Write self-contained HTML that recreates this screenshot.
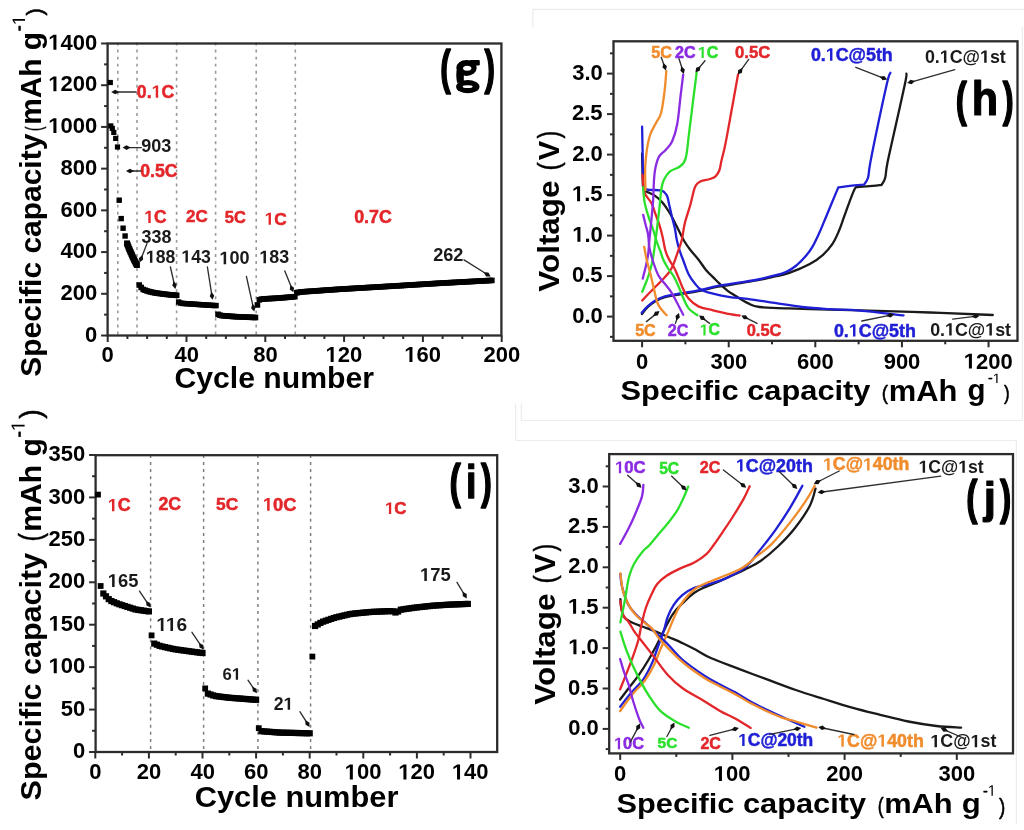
<!DOCTYPE html><html><head><meta charset="utf-8"><style>html,body{margin:0;padding:0;background:#fff;overflow:hidden}svg{display:block;filter:blur(0.5px)}text{font-family:"Liberation Sans",sans-serif}</style></head><body>
<svg width="1024" height="830" viewBox="0 0 1024 830">
<rect width="1024" height="830" fill="#fff"/>
<line x1="532.8" y1="9.3" x2="1024" y2="9.3" stroke="#ececec" stroke-width="1.2" />
<line x1="532.8" y1="9.8" x2="532.8" y2="27.8" stroke="#ececec" stroke-width="1.2" />
<line x1="1022.4" y1="27" x2="1022.4" y2="420.4" stroke="#ececec" stroke-width="1.2" />
<line x1="515.6" y1="403.4" x2="515.6" y2="440.5" stroke="#ececec" stroke-width="1.2" />
<line x1="521.3" y1="403.4" x2="521.3" y2="420.5" stroke="#ececec" stroke-width="1.2" />
<line x1="521.3" y1="420.5" x2="1022.4" y2="420.5" stroke="#ececec" stroke-width="1.2" />
<line x1="515.6" y1="440.5" x2="1016.4" y2="440.5" stroke="#ececec" stroke-width="1.2" />
<line x1="1016.4" y1="440.5" x2="1016.4" y2="824" stroke="#ececec" stroke-width="1.2" />
<line x1="117.8" y1="42.55" x2="117.8" y2="334.5" stroke="#9a9a9a" stroke-width="1.6" stroke-dasharray="2.9 4.15"/>
<line x1="137" y1="42.55" x2="137" y2="334.5" stroke="#9a9a9a" stroke-width="1.6" stroke-dasharray="2.9 4.15"/>
<line x1="176.6" y1="42.55" x2="176.6" y2="334.5" stroke="#9a9a9a" stroke-width="1.6" stroke-dasharray="2.9 4.15"/>
<line x1="215.6" y1="42.55" x2="215.6" y2="334.5" stroke="#9a9a9a" stroke-width="1.6" stroke-dasharray="2.9 4.15"/>
<line x1="256.2" y1="42.55" x2="256.2" y2="334.5" stroke="#9a9a9a" stroke-width="1.6" stroke-dasharray="2.9 4.15"/>
<line x1="295.3" y1="42.55" x2="295.3" y2="334.5" stroke="#9a9a9a" stroke-width="1.6" stroke-dasharray="2.9 4.15"/>
<rect x="107.6" y="43.5" width="393.8" height="292" fill="none" stroke="#2c2c2c" stroke-width="2.3"/>
<line x1="101.1" y1="335.5" x2="107.6" y2="335.5" stroke="#2c2c2c" stroke-width="2" />
<line x1="101.1" y1="293.79" x2="107.6" y2="293.79" stroke="#2c2c2c" stroke-width="2" />
<line x1="101.1" y1="252.07" x2="107.6" y2="252.07" stroke="#2c2c2c" stroke-width="2" />
<line x1="101.1" y1="210.36" x2="107.6" y2="210.36" stroke="#2c2c2c" stroke-width="2" />
<line x1="101.1" y1="168.64" x2="107.6" y2="168.64" stroke="#2c2c2c" stroke-width="2" />
<line x1="101.1" y1="126.93" x2="107.6" y2="126.93" stroke="#2c2c2c" stroke-width="2" />
<line x1="101.1" y1="85.22" x2="107.6" y2="85.22" stroke="#2c2c2c" stroke-width="2" />
<line x1="101.1" y1="43.5" x2="107.6" y2="43.5" stroke="#2c2c2c" stroke-width="2" />
<line x1="104.1" y1="314.64" x2="107.6" y2="314.64" stroke="#2c2c2c" stroke-width="2" />
<line x1="104.1" y1="272.93" x2="107.6" y2="272.93" stroke="#2c2c2c" stroke-width="2" />
<line x1="104.1" y1="231.22" x2="107.6" y2="231.22" stroke="#2c2c2c" stroke-width="2" />
<line x1="104.1" y1="189.5" x2="107.6" y2="189.5" stroke="#2c2c2c" stroke-width="2" />
<line x1="104.1" y1="147.79" x2="107.6" y2="147.79" stroke="#2c2c2c" stroke-width="2" />
<line x1="104.1" y1="106.07" x2="107.6" y2="106.07" stroke="#2c2c2c" stroke-width="2" />
<line x1="104.1" y1="64.36" x2="107.6" y2="64.36" stroke="#2c2c2c" stroke-width="2" />
<line x1="107.7" y1="335.5" x2="107.7" y2="342" stroke="#2c2c2c" stroke-width="2" />
<line x1="186.5" y1="335.5" x2="186.5" y2="342" stroke="#2c2c2c" stroke-width="2" />
<line x1="265.3" y1="335.5" x2="265.3" y2="342" stroke="#2c2c2c" stroke-width="2" />
<line x1="344.1" y1="335.5" x2="344.1" y2="342" stroke="#2c2c2c" stroke-width="2" />
<line x1="422.9" y1="335.5" x2="422.9" y2="342" stroke="#2c2c2c" stroke-width="2" />
<line x1="501.7" y1="335.5" x2="501.7" y2="342" stroke="#2c2c2c" stroke-width="2" />
<line x1="127.4" y1="335.5" x2="127.4" y2="339" stroke="#2c2c2c" stroke-width="2" />
<line x1="147.1" y1="335.5" x2="147.1" y2="339" stroke="#2c2c2c" stroke-width="2" />
<line x1="166.8" y1="335.5" x2="166.8" y2="339" stroke="#2c2c2c" stroke-width="2" />
<line x1="206.2" y1="335.5" x2="206.2" y2="339" stroke="#2c2c2c" stroke-width="2" />
<line x1="225.9" y1="335.5" x2="225.9" y2="339" stroke="#2c2c2c" stroke-width="2" />
<line x1="245.6" y1="335.5" x2="245.6" y2="339" stroke="#2c2c2c" stroke-width="2" />
<line x1="285" y1="335.5" x2="285" y2="339" stroke="#2c2c2c" stroke-width="2" />
<line x1="304.7" y1="335.5" x2="304.7" y2="339" stroke="#2c2c2c" stroke-width="2" />
<line x1="324.4" y1="335.5" x2="324.4" y2="339" stroke="#2c2c2c" stroke-width="2" />
<line x1="363.8" y1="335.5" x2="363.8" y2="339" stroke="#2c2c2c" stroke-width="2" />
<line x1="383.5" y1="335.5" x2="383.5" y2="339" stroke="#2c2c2c" stroke-width="2" />
<line x1="403.2" y1="335.5" x2="403.2" y2="339" stroke="#2c2c2c" stroke-width="2" />
<line x1="442.6" y1="335.5" x2="442.6" y2="339" stroke="#2c2c2c" stroke-width="2" />
<line x1="462.3" y1="335.5" x2="462.3" y2="339" stroke="#2c2c2c" stroke-width="2" />
<line x1="482" y1="335.5" x2="482" y2="339" stroke="#2c2c2c" stroke-width="2" />
<text transform="translate(85.05 341.65) scale(1.0200 1)" font-size="21.6" font-weight="bold" fill="#000">0</text>
<text transform="translate(60.6 299.94) scale(1.0200 1)" font-size="21.6" font-weight="bold" fill="#000">200</text>
<text transform="translate(60.6 258.22) scale(1.0200 1)" font-size="21.6" font-weight="bold" fill="#000">400</text>
<text transform="translate(60.6 216.51) scale(1.0200 1)" font-size="21.6" font-weight="bold" fill="#000">600</text>
<text transform="translate(60.6 174.8) scale(1.0200 1)" font-size="21.6" font-weight="bold" fill="#000">800</text>
<g transform="translate(48.26 133.08) scale(1.0200 1)" fill="#000"><path transform="translate(0 0) scale(0.01055 -0.01055)" d="M478,0 L478,1170 L140,959 L140,1180 L493,1409 L759,1409 L759,0 Z"/><text x="12.01" y="0" font-size="21.6" font-weight="bold">000</text></g>
<g transform="translate(48.26 91.37) scale(1.0200 1)" fill="#000"><path transform="translate(0 0) scale(0.01055 -0.01055)" d="M478,0 L478,1170 L140,959 L140,1180 L493,1409 L759,1409 L759,0 Z"/><text x="12.01" y="0" font-size="21.6" font-weight="bold">200</text></g>
<g transform="translate(48.26 49.65) scale(1.0200 1)" fill="#000"><path transform="translate(0 0) scale(0.01055 -0.01055)" d="M478,0 L478,1170 L140,959 L140,1180 L493,1409 L759,1409 L759,0 Z"/><text x="12.01" y="0" font-size="21.6" font-weight="bold">400</text></g>
<text transform="translate(101.59 361.92) scale(1.0200 1)" font-size="21.6" font-weight="bold" fill="#000">0</text>
<text transform="translate(174.55 361.92) scale(1.0200 1)" font-size="21.6" font-weight="bold" fill="#000">40</text>
<text transform="translate(253.18 361.92) scale(1.0200 1)" font-size="21.6" font-weight="bold" fill="#000">80</text>
<g transform="translate(325.48 361.92) scale(1.0200 1)" fill="#000"><path transform="translate(0 0) scale(0.01055 -0.01055)" d="M478,0 L478,1170 L140,959 L140,1180 L493,1409 L759,1409 L759,0 Z"/><text x="12.01" y="0" font-size="21.6" font-weight="bold">20</text></g>
<g transform="translate(404.28 361.92) scale(1.0200 1)" fill="#000"><path transform="translate(0 0) scale(0.01055 -0.01055)" d="M478,0 L478,1170 L140,959 L140,1180 L493,1409 L759,1409 L759,0 Z"/><text x="12.01" y="0" font-size="21.6" font-weight="bold">60</text></g>
<text transform="translate(483.41 361.92) scale(1.0200 1)" font-size="21.6" font-weight="bold" fill="#000">200</text>
<rect x="107.7" y="79.9" width="5.2" height="5.2" fill="#000"/>
<rect x="108.2" y="123.3" width="5.2" height="5.2" fill="#000"/>
<rect x="109.7" y="125.8" width="5.2" height="5.2" fill="#000"/>
<rect x="111.2" y="129.8" width="5.2" height="5.2" fill="#000"/>
<rect x="113.1" y="135.8" width="5.2" height="5.2" fill="#000"/>
<rect x="114.9" y="144.4" width="5.2" height="5.2" fill="#000"/>
<rect x="116.5" y="197.5" width="5.4" height="5.4" fill="#000"/>
<rect x="118.5" y="215.9" width="5.4" height="5.4" fill="#000"/>
<rect x="120.4" y="225.5" width="5.4" height="5.4" fill="#000"/>
<rect x="122.4" y="233.3" width="5.4" height="5.4" fill="#000"/>
<rect x="124.4" y="240.8" width="5.4" height="5.4" fill="#000"/>
<rect x="124.1" y="240.5" width="6" height="6" fill="#000"/>
<rect x="124.8" y="242.34" width="6" height="6" fill="#000"/>
<rect x="125.5" y="244.18" width="6" height="6" fill="#000"/>
<rect x="126.2" y="245.95" width="6" height="6" fill="#000"/>
<rect x="126.9" y="247.53" width="6" height="6" fill="#000"/>
<rect x="127.6" y="249.1" width="6" height="6" fill="#000"/>
<rect x="128.3" y="250.67" width="6" height="6" fill="#000"/>
<rect x="129" y="252.25" width="6" height="6" fill="#000"/>
<rect x="129.7" y="253.82" width="6" height="6" fill="#000"/>
<rect x="130.4" y="255.3" width="6" height="6" fill="#000"/>
<rect x="131.1" y="256.7" width="6" height="6" fill="#000"/>
<rect x="131.8" y="258.1" width="6" height="6" fill="#000"/>
<rect x="132.5" y="259.43" width="6" height="6" fill="#000"/>
<rect x="133.2" y="260.72" width="6" height="6" fill="#000"/>
<rect x="133.9" y="262.01" width="6" height="6" fill="#000"/>
<rect x="136.42" y="282.22" width="5.6" height="5.6" fill="#000"/>
<rect x="138.39" y="284.64" width="5.6" height="5.6" fill="#000"/>
<rect x="140.36" y="286.67" width="5.6" height="5.6" fill="#000"/>
<rect x="142.33" y="287.42" width="5.6" height="5.6" fill="#000"/>
<rect x="144.3" y="288.16" width="5.6" height="5.6" fill="#000"/>
<rect x="146.27" y="288.75" width="5.6" height="5.6" fill="#000"/>
<rect x="148.24" y="289.2" width="5.6" height="5.6" fill="#000"/>
<rect x="150.21" y="289.65" width="5.6" height="5.6" fill="#000"/>
<rect x="152.18" y="290.1" width="5.6" height="5.6" fill="#000"/>
<rect x="154.15" y="290.4" width="5.6" height="5.6" fill="#000"/>
<rect x="156.12" y="290.64" width="5.6" height="5.6" fill="#000"/>
<rect x="158.09" y="290.89" width="5.6" height="5.6" fill="#000"/>
<rect x="160.06" y="291.14" width="5.6" height="5.6" fill="#000"/>
<rect x="162.03" y="291.39" width="5.6" height="5.6" fill="#000"/>
<rect x="164" y="291.64" width="5.6" height="5.6" fill="#000"/>
<rect x="165.97" y="291.86" width="5.6" height="5.6" fill="#000"/>
<rect x="167.94" y="292.02" width="5.6" height="5.6" fill="#000"/>
<rect x="169.91" y="292.18" width="5.6" height="5.6" fill="#000"/>
<rect x="171.88" y="292.34" width="5.6" height="5.6" fill="#000"/>
<rect x="173.85" y="292.5" width="5.6" height="5.6" fill="#000"/>
<rect x="175.92" y="299.31" width="5.4" height="5.4" fill="#000"/>
<rect x="177.89" y="300.38" width="5.4" height="5.4" fill="#000"/>
<rect x="179.86" y="300.71" width="5.4" height="5.4" fill="#000"/>
<rect x="181.83" y="300.84" width="5.4" height="5.4" fill="#000"/>
<rect x="183.8" y="300.98" width="5.4" height="5.4" fill="#000"/>
<rect x="185.77" y="301.11" width="5.4" height="5.4" fill="#000"/>
<rect x="187.74" y="301.25" width="5.4" height="5.4" fill="#000"/>
<rect x="189.71" y="301.38" width="5.4" height="5.4" fill="#000"/>
<rect x="191.68" y="301.52" width="5.4" height="5.4" fill="#000"/>
<rect x="193.65" y="301.65" width="5.4" height="5.4" fill="#000"/>
<rect x="195.62" y="301.79" width="5.4" height="5.4" fill="#000"/>
<rect x="197.59" y="301.92" width="5.4" height="5.4" fill="#000"/>
<rect x="199.56" y="302.04" width="5.4" height="5.4" fill="#000"/>
<rect x="201.53" y="302.17" width="5.4" height="5.4" fill="#000"/>
<rect x="203.5" y="302.3" width="5.4" height="5.4" fill="#000"/>
<rect x="205.47" y="302.42" width="5.4" height="5.4" fill="#000"/>
<rect x="207.44" y="302.55" width="5.4" height="5.4" fill="#000"/>
<rect x="209.41" y="302.68" width="5.4" height="5.4" fill="#000"/>
<rect x="211.38" y="302.8" width="5.4" height="5.4" fill="#000"/>
<rect x="213.35" y="302.9" width="5.4" height="5.4" fill="#000"/>
<rect x="215.22" y="311.51" width="5.6" height="5.6" fill="#000"/>
<rect x="217.19" y="312.36" width="5.6" height="5.6" fill="#000"/>
<rect x="219.16" y="312.87" width="5.6" height="5.6" fill="#000"/>
<rect x="221.13" y="313.01" width="5.6" height="5.6" fill="#000"/>
<rect x="223.1" y="313.16" width="5.6" height="5.6" fill="#000"/>
<rect x="225.07" y="313.3" width="5.6" height="5.6" fill="#000"/>
<rect x="227.04" y="313.45" width="5.6" height="5.6" fill="#000"/>
<rect x="229.01" y="313.59" width="5.6" height="5.6" fill="#000"/>
<rect x="230.98" y="313.74" width="5.6" height="5.6" fill="#000"/>
<rect x="232.95" y="313.88" width="5.6" height="5.6" fill="#000"/>
<rect x="234.92" y="313.97" width="5.6" height="5.6" fill="#000"/>
<rect x="236.89" y="314.05" width="5.6" height="5.6" fill="#000"/>
<rect x="238.86" y="314.13" width="5.6" height="5.6" fill="#000"/>
<rect x="240.83" y="314.22" width="5.6" height="5.6" fill="#000"/>
<rect x="242.8" y="314.3" width="5.6" height="5.6" fill="#000"/>
<rect x="244.77" y="314.38" width="5.6" height="5.6" fill="#000"/>
<rect x="246.74" y="314.46" width="5.6" height="5.6" fill="#000"/>
<rect x="248.71" y="314.54" width="5.6" height="5.6" fill="#000"/>
<rect x="250.68" y="314.62" width="5.6" height="5.6" fill="#000"/>
<rect x="252.65" y="314.7" width="5.6" height="5.6" fill="#000"/>
<rect x="254.62" y="302.15" width="5.6" height="5.6" fill="#000"/>
<rect x="256.59" y="297.03" width="5.6" height="5.6" fill="#000"/>
<rect x="258.56" y="296.4" width="5.6" height="5.6" fill="#000"/>
<rect x="260.53" y="296.13" width="5.6" height="5.6" fill="#000"/>
<rect x="262.5" y="296.03" width="5.6" height="5.6" fill="#000"/>
<rect x="264.47" y="295.92" width="5.6" height="5.6" fill="#000"/>
<rect x="266.44" y="295.82" width="5.6" height="5.6" fill="#000"/>
<rect x="268.41" y="295.72" width="5.6" height="5.6" fill="#000"/>
<rect x="270.38" y="295.61" width="5.6" height="5.6" fill="#000"/>
<rect x="272.35" y="295.51" width="5.6" height="5.6" fill="#000"/>
<rect x="274.32" y="295.4" width="5.6" height="5.6" fill="#000"/>
<rect x="276.29" y="295.24" width="5.6" height="5.6" fill="#000"/>
<rect x="278.26" y="295.07" width="5.6" height="5.6" fill="#000"/>
<rect x="280.23" y="294.91" width="5.6" height="5.6" fill="#000"/>
<rect x="282.2" y="294.74" width="5.6" height="5.6" fill="#000"/>
<rect x="284.17" y="294.57" width="5.6" height="5.6" fill="#000"/>
<rect x="286.14" y="294.41" width="5.6" height="5.6" fill="#000"/>
<rect x="288.11" y="294.24" width="5.6" height="5.6" fill="#000"/>
<rect x="290.08" y="294.07" width="5.6" height="5.6" fill="#000"/>
<rect x="292.05" y="293.9" width="5.6" height="5.6" fill="#000"/>
<rect x="294.02" y="290" width="5.6" height="5.6" fill="#000"/>
<rect x="295.99" y="289.5" width="5.6" height="5.6" fill="#000"/>
<rect x="297.96" y="289.15" width="5.6" height="5.6" fill="#000"/>
<rect x="299.93" y="289.01" width="5.6" height="5.6" fill="#000"/>
<rect x="301.9" y="288.87" width="5.6" height="5.6" fill="#000"/>
<rect x="303.87" y="288.73" width="5.6" height="5.6" fill="#000"/>
<rect x="305.84" y="288.6" width="5.6" height="5.6" fill="#000"/>
<rect x="307.81" y="288.46" width="5.6" height="5.6" fill="#000"/>
<rect x="309.78" y="288.32" width="5.6" height="5.6" fill="#000"/>
<rect x="311.75" y="288.18" width="5.6" height="5.6" fill="#000"/>
<rect x="313.72" y="288.04" width="5.6" height="5.6" fill="#000"/>
<rect x="315.69" y="287.91" width="5.6" height="5.6" fill="#000"/>
<rect x="317.66" y="287.77" width="5.6" height="5.6" fill="#000"/>
<rect x="319.63" y="287.63" width="5.6" height="5.6" fill="#000"/>
<rect x="321.6" y="287.49" width="5.6" height="5.6" fill="#000"/>
<rect x="323.57" y="287.35" width="5.6" height="5.6" fill="#000"/>
<rect x="325.54" y="287.22" width="5.6" height="5.6" fill="#000"/>
<rect x="327.51" y="287.08" width="5.6" height="5.6" fill="#000"/>
<rect x="329.48" y="286.94" width="5.6" height="5.6" fill="#000"/>
<rect x="331.45" y="286.8" width="5.6" height="5.6" fill="#000"/>
<rect x="333.42" y="286.66" width="5.6" height="5.6" fill="#000"/>
<rect x="335.39" y="286.53" width="5.6" height="5.6" fill="#000"/>
<rect x="337.36" y="286.39" width="5.6" height="5.6" fill="#000"/>
<rect x="339.33" y="286.27" width="5.6" height="5.6" fill="#000"/>
<rect x="341.3" y="286.16" width="5.6" height="5.6" fill="#000"/>
<rect x="343.27" y="286.04" width="5.6" height="5.6" fill="#000"/>
<rect x="345.24" y="285.93" width="5.6" height="5.6" fill="#000"/>
<rect x="347.21" y="285.81" width="5.6" height="5.6" fill="#000"/>
<rect x="349.18" y="285.69" width="5.6" height="5.6" fill="#000"/>
<rect x="351.15" y="285.58" width="5.6" height="5.6" fill="#000"/>
<rect x="353.12" y="285.46" width="5.6" height="5.6" fill="#000"/>
<rect x="355.09" y="285.35" width="5.6" height="5.6" fill="#000"/>
<rect x="357.06" y="285.23" width="5.6" height="5.6" fill="#000"/>
<rect x="359.03" y="285.11" width="5.6" height="5.6" fill="#000"/>
<rect x="361" y="285" width="5.6" height="5.6" fill="#000"/>
<rect x="362.97" y="284.88" width="5.6" height="5.6" fill="#000"/>
<rect x="364.94" y="284.77" width="5.6" height="5.6" fill="#000"/>
<rect x="366.91" y="284.65" width="5.6" height="5.6" fill="#000"/>
<rect x="368.88" y="284.53" width="5.6" height="5.6" fill="#000"/>
<rect x="370.85" y="284.42" width="5.6" height="5.6" fill="#000"/>
<rect x="372.82" y="284.3" width="5.6" height="5.6" fill="#000"/>
<rect x="374.79" y="284.19" width="5.6" height="5.6" fill="#000"/>
<rect x="376.76" y="284.07" width="5.6" height="5.6" fill="#000"/>
<rect x="378.73" y="283.95" width="5.6" height="5.6" fill="#000"/>
<rect x="380.7" y="283.84" width="5.6" height="5.6" fill="#000"/>
<rect x="382.67" y="283.72" width="5.6" height="5.6" fill="#000"/>
<rect x="384.64" y="283.6" width="5.6" height="5.6" fill="#000"/>
<rect x="386.61" y="283.49" width="5.6" height="5.6" fill="#000"/>
<rect x="388.58" y="283.37" width="5.6" height="5.6" fill="#000"/>
<rect x="390.55" y="283.26" width="5.6" height="5.6" fill="#000"/>
<rect x="392.52" y="283.14" width="5.6" height="5.6" fill="#000"/>
<rect x="394.49" y="283.02" width="5.6" height="5.6" fill="#000"/>
<rect x="396.46" y="282.91" width="5.6" height="5.6" fill="#000"/>
<rect x="398.43" y="282.79" width="5.6" height="5.6" fill="#000"/>
<rect x="400.4" y="282.67" width="5.6" height="5.6" fill="#000"/>
<rect x="402.37" y="282.54" width="5.6" height="5.6" fill="#000"/>
<rect x="404.34" y="282.42" width="5.6" height="5.6" fill="#000"/>
<rect x="406.31" y="282.3" width="5.6" height="5.6" fill="#000"/>
<rect x="408.28" y="282.18" width="5.6" height="5.6" fill="#000"/>
<rect x="410.25" y="282.06" width="5.6" height="5.6" fill="#000"/>
<rect x="412.22" y="281.94" width="5.6" height="5.6" fill="#000"/>
<rect x="414.19" y="281.82" width="5.6" height="5.6" fill="#000"/>
<rect x="416.16" y="281.7" width="5.6" height="5.6" fill="#000"/>
<rect x="418.13" y="281.57" width="5.6" height="5.6" fill="#000"/>
<rect x="420.1" y="281.45" width="5.6" height="5.6" fill="#000"/>
<rect x="422.07" y="281.33" width="5.6" height="5.6" fill="#000"/>
<rect x="424.04" y="281.21" width="5.6" height="5.6" fill="#000"/>
<rect x="426.01" y="281.09" width="5.6" height="5.6" fill="#000"/>
<rect x="427.98" y="280.97" width="5.6" height="5.6" fill="#000"/>
<rect x="429.95" y="280.85" width="5.6" height="5.6" fill="#000"/>
<rect x="431.92" y="280.73" width="5.6" height="5.6" fill="#000"/>
<rect x="433.89" y="280.6" width="5.6" height="5.6" fill="#000"/>
<rect x="435.86" y="280.48" width="5.6" height="5.6" fill="#000"/>
<rect x="437.83" y="280.37" width="5.6" height="5.6" fill="#000"/>
<rect x="439.8" y="280.26" width="5.6" height="5.6" fill="#000"/>
<rect x="441.77" y="280.15" width="5.6" height="5.6" fill="#000"/>
<rect x="443.74" y="280.05" width="5.6" height="5.6" fill="#000"/>
<rect x="445.71" y="279.94" width="5.6" height="5.6" fill="#000"/>
<rect x="447.68" y="279.83" width="5.6" height="5.6" fill="#000"/>
<rect x="449.65" y="279.73" width="5.6" height="5.6" fill="#000"/>
<rect x="451.62" y="279.62" width="5.6" height="5.6" fill="#000"/>
<rect x="453.59" y="279.52" width="5.6" height="5.6" fill="#000"/>
<rect x="455.56" y="279.41" width="5.6" height="5.6" fill="#000"/>
<rect x="457.53" y="279.3" width="5.6" height="5.6" fill="#000"/>
<rect x="459.5" y="279.2" width="5.6" height="5.6" fill="#000"/>
<rect x="461.47" y="279.09" width="5.6" height="5.6" fill="#000"/>
<rect x="463.44" y="278.98" width="5.6" height="5.6" fill="#000"/>
<rect x="465.41" y="278.88" width="5.6" height="5.6" fill="#000"/>
<rect x="467.38" y="278.77" width="5.6" height="5.6" fill="#000"/>
<rect x="469.35" y="278.67" width="5.6" height="5.6" fill="#000"/>
<rect x="471.32" y="278.56" width="5.6" height="5.6" fill="#000"/>
<rect x="473.29" y="278.45" width="5.6" height="5.6" fill="#000"/>
<rect x="475.26" y="278.35" width="5.6" height="5.6" fill="#000"/>
<rect x="477.23" y="278.24" width="5.6" height="5.6" fill="#000"/>
<rect x="479.2" y="278.13" width="5.6" height="5.6" fill="#000"/>
<rect x="481.17" y="278.03" width="5.6" height="5.6" fill="#000"/>
<rect x="483.14" y="277.92" width="5.6" height="5.6" fill="#000"/>
<rect x="485.11" y="277.82" width="5.6" height="5.6" fill="#000"/>
<rect x="487.08" y="277.71" width="5.6" height="5.6" fill="#000"/>
<rect x="489.05" y="277.6" width="5.6" height="5.6" fill="#000"/>
<g transform="translate(136.84 97.66) scale(1.0000 1)" fill="#e3262a" stroke="#e3262a" stroke-width="0.5" stroke-linejoin="round"><text x="0" y="0" font-size="17.7" font-weight="bold">0.</text><path transform="translate(14.76 0) scale(0.00864 -0.00864)" d="M478,0 L478,1170 L140,959 L140,1180 L493,1409 L759,1409 L759,0 Z"/><text x="24.61" y="0" font-size="17.7" font-weight="bold">C</text></g>
<line x1="136.1" y1="92" x2="116" y2="92" stroke="#2e2e2e" stroke-width="1.35" stroke-linecap="round"/>
<polygon points="111.2,92 115.2,89.7 119.2,92 115.2,94.3" fill="#111"/>
<text transform="translate(141.27 152.43) scale(1.0000 1)" font-size="18.06" font-weight="bold" fill="#1a1a1a">903</text>
<line x1="141.4" y1="147.6" x2="127.4" y2="147.6" stroke="#2e2e2e" stroke-width="1.35" stroke-linecap="round"/>
<polygon points="122.6,147.6 126.6,145.3 130.6,147.6 126.6,149.9" fill="#111"/>
<text transform="translate(140.14 177.46) scale(1.0000 1)" font-size="17.7" font-weight="bold" fill="#e3262a" stroke="#e3262a" stroke-width="0.5" stroke-linejoin="round">0.5C</text>
<line x1="140.8" y1="171" x2="130.8" y2="171" stroke="#2e2e2e" stroke-width="1.35" stroke-linecap="round"/>
<polygon points="126,171 130,168.7 134,171 130,173.3" fill="#111"/>
<g transform="translate(144.21 222.88) scale(1.0000 1)" fill="#e3262a" stroke="#e3262a" stroke-width="0.5" stroke-linejoin="round"><path transform="translate(0 0) scale(0.00853 -0.00853)" d="M478,0 L478,1170 L140,959 L140,1180 L493,1409 L759,1409 L759,0 Z"/><text x="9.72" y="0" font-size="17.47" font-weight="bold">C</text></g>
<text transform="translate(186.05 222.08) scale(1.0000 1)" font-size="17.04" font-weight="bold" fill="#e3262a" stroke="#e3262a" stroke-width="0.5" stroke-linejoin="round">2C</text>
<text transform="translate(224.86 223.43) scale(1.0000 1)" font-size="16.48" font-weight="bold" fill="#e3262a" stroke="#e3262a" stroke-width="0.5" stroke-linejoin="round">5C</text>
<g transform="translate(264.53 224.72) scale(1.0000 1)" fill="#e3262a" stroke="#e3262a" stroke-width="0.5" stroke-linejoin="round"><path transform="translate(0 0) scale(0.00845 -0.00845)" d="M478,0 L478,1170 L140,959 L140,1180 L493,1409 L759,1409 L759,0 Z"/><text x="9.62" y="0" font-size="17.3" font-weight="bold">C</text></g>
<text transform="translate(354.14 223.16) scale(1.0000 1)" font-size="17.85" font-weight="bold" fill="#e3262a" stroke="#e3262a" stroke-width="0.5" stroke-linejoin="round">0.7C</text>
<text transform="translate(141.45 243.04) scale(1.0000 1)" font-size="17.95" font-weight="bold" fill="#1a1a1a">338</text>
<line x1="147" y1="243.6" x2="141.35" y2="258.03" stroke="#2e2e2e" stroke-width="1.35" stroke-linecap="round"/>
<polygon points="139.6,262.5 138.92,257.94 142.52,255.05 143.2,259.61" fill="#111"/>
<g transform="translate(145.86 262.86) scale(1.0000 1)" fill="#1a1a1a"><path transform="translate(0 0) scale(0.00858 -0.00858)" d="M478,0 L478,1170 L140,959 L140,1180 L493,1409 L759,1409 L759,0 Z"/><text x="9.78" y="0" font-size="17.58" font-weight="bold">88</text></g>
<line x1="170.4" y1="267" x2="174.34" y2="284.32" stroke="#2e2e2e" stroke-width="1.35" stroke-linecap="round"/>
<polygon points="175.4,289 172.27,285.61 173.63,281.2 176.76,284.59" fill="#111"/>
<g transform="translate(181.35 262.53) scale(1.0000 1)" fill="#1a1a1a"><path transform="translate(0 0) scale(0.00861 -0.00861)" d="M478,0 L478,1170 L140,959 L140,1180 L493,1409 L759,1409 L759,0 Z"/><text x="9.81" y="0" font-size="17.64" font-weight="bold">43</text></g>
<line x1="207.4" y1="267" x2="211.85" y2="295.06" stroke="#2e2e2e" stroke-width="1.35" stroke-linecap="round"/>
<polygon points="212.6,299.8 209.7,296.21 211.35,291.9 214.25,295.49" fill="#111"/>
<g transform="translate(219.42 264.29) scale(1.0000 1)" fill="#1a1a1a"><path transform="translate(0 0) scale(0.00883 -0.00883)" d="M478,0 L478,1170 L140,959 L140,1180 L493,1409 L759,1409 L759,0 Z"/><text x="10.05" y="0" font-size="18.08" font-weight="bold">00</text></g>
<line x1="246.4" y1="276.4" x2="253.16" y2="306.91" stroke="#2e2e2e" stroke-width="1.35" stroke-linecap="round"/>
<polygon points="254.2,311.6 251.09,308.19 252.47,303.79 255.58,307.2" fill="#111"/>
<g transform="translate(259.34 263.17) scale(1.0000 1)" fill="#1a1a1a"><path transform="translate(0 0) scale(0.00874 -0.00874)" d="M478,0 L478,1170 L140,959 L140,1180 L493,1409 L759,1409 L759,0 Z"/><text x="9.95" y="0" font-size="17.89" font-weight="bold">83</text></g>
<line x1="284.8" y1="271" x2="291.6" y2="287.85" stroke="#2e2e2e" stroke-width="1.35" stroke-linecap="round"/>
<polygon points="293.4,292.3 289.77,289.45 290.4,284.88 294.04,287.73" fill="#111"/>
<text transform="translate(433.16 260.82) scale(1.0000 1)" font-size="18.18" font-weight="bold" fill="#1a1a1a">262</text>
<line x1="464" y1="259.9" x2="486.53" y2="274.05" stroke="#2e2e2e" stroke-width="1.35" stroke-linecap="round"/>
<polygon points="490.6,276.6 485.99,276.42 483.82,272.35 488.44,272.53" fill="#111"/>
<text transform="translate(440.28 84.02) scale(0.6648 1)" font-size="47.27" font-weight="bold" fill="#000" stroke="#000" stroke-width="1.65" stroke-linejoin="round">(</text>
<ellipse cx="466.5" cy="67.9" rx="10.2" ry="8.0" fill="#000"/>
<rect x="469.5" y="59.9" width="10.3" height="5.5" rx="1.2" fill="#000"/>
<path d="M456.6,70 L463.8,74 L463.8,81.5 L457.2,83 Q455.8,78 456.6,70 Z" fill="#000"/>
<ellipse cx="467.8" cy="86.7" rx="11.7" ry="6.6" fill="#000"/>
<ellipse cx="467.2" cy="68.3" rx="4.1" ry="2.5" fill="#fff"/>
<ellipse cx="467.6" cy="86.7" rx="5.0" ry="1.35" fill="#fff"/>
<rect x="464.5" y="76.3" width="16" height="3.6" fill="#fff"/>
<text transform="translate(484.39 84.02) scale(0.6648 1)" font-size="47.27" font-weight="bold" fill="#000" stroke="#000" stroke-width="1.65" stroke-linejoin="round">)</text>
<text transform="translate(174.39 388.46) scale(1.0496 1)" font-size="28.77" font-weight="bold" fill="#000">Cycle number</text>
<text transform="translate(41.31 376.8) rotate(-90) scale(1.0342 1)" font-size="28.98" font-weight="bold" fill="#000">Specific capacity</text>
<text transform="translate(41.16 131.04) rotate(-90) scale(0.6175 1)" font-size="21.39" font-weight="normal" fill="#000" stroke="#000" stroke-width="0.5" stroke-linejoin="round">(</text>
<text transform="translate(41.31 124.84) rotate(-90) scale(1.0293 1)" font-size="28.98" font-weight="bold" fill="#000">mAh g</text>
<g transform="translate(25 31.2) rotate(-90) scale(1.0000 1)" fill="#000" stroke="#000" stroke-width="0.8" stroke-linejoin="round"><text x="0" y="0" font-size="18" font-weight="normal">-</text><path transform="translate(5.99 0) scale(0.00879 -0.00879)" d="M515,0 L515,1237 L197,1010 L197,1180 L530,1409 L696,1409 L696,0 Z"/></g>
<text transform="translate(41.6 15.5) rotate(-90) scale(1.0000 1)" font-size="22" font-weight="normal" fill="#000" stroke="#000" stroke-width="0.6" stroke-linejoin="round">)</text>
<line x1="150.6" y1="454.9" x2="150.6" y2="751" stroke="#7c7c7c" stroke-width="1.45" stroke-dasharray="3.0 4.1"/>
<line x1="203.6" y1="454.9" x2="203.6" y2="751" stroke="#7c7c7c" stroke-width="1.45" stroke-dasharray="3.0 4.1"/>
<line x1="257.9" y1="454.9" x2="257.9" y2="751" stroke="#7c7c7c" stroke-width="1.45" stroke-dasharray="3.0 4.1"/>
<line x1="310.6" y1="454.9" x2="310.6" y2="751" stroke="#7c7c7c" stroke-width="1.45" stroke-dasharray="3.0 4.1"/>
<rect x="95.6" y="455.2" width="401.6" height="296.8" fill="none" stroke="#2c2c2c" stroke-width="2.3"/>
<line x1="89.1" y1="752" x2="95.6" y2="752" stroke="#2c2c2c" stroke-width="2" />
<line x1="89.1" y1="709.57" x2="95.6" y2="709.57" stroke="#2c2c2c" stroke-width="2" />
<line x1="89.1" y1="667.14" x2="95.6" y2="667.14" stroke="#2c2c2c" stroke-width="2" />
<line x1="89.1" y1="624.71" x2="95.6" y2="624.71" stroke="#2c2c2c" stroke-width="2" />
<line x1="89.1" y1="582.28" x2="95.6" y2="582.28" stroke="#2c2c2c" stroke-width="2" />
<line x1="89.1" y1="539.85" x2="95.6" y2="539.85" stroke="#2c2c2c" stroke-width="2" />
<line x1="89.1" y1="497.42" x2="95.6" y2="497.42" stroke="#2c2c2c" stroke-width="2" />
<line x1="89.1" y1="454.99" x2="95.6" y2="454.99" stroke="#2c2c2c" stroke-width="2" />
<line x1="92.1" y1="730.78" x2="95.6" y2="730.78" stroke="#2c2c2c" stroke-width="2" />
<line x1="92.1" y1="688.36" x2="95.6" y2="688.36" stroke="#2c2c2c" stroke-width="2" />
<line x1="92.1" y1="645.92" x2="95.6" y2="645.92" stroke="#2c2c2c" stroke-width="2" />
<line x1="92.1" y1="603.5" x2="95.6" y2="603.5" stroke="#2c2c2c" stroke-width="2" />
<line x1="92.1" y1="561.07" x2="95.6" y2="561.07" stroke="#2c2c2c" stroke-width="2" />
<line x1="92.1" y1="518.63" x2="95.6" y2="518.63" stroke="#2c2c2c" stroke-width="2" />
<line x1="92.1" y1="476.2" x2="95.6" y2="476.2" stroke="#2c2c2c" stroke-width="2" />
<line x1="95.3" y1="752" x2="95.3" y2="758.5" stroke="#2c2c2c" stroke-width="2" />
<line x1="148.9" y1="752" x2="148.9" y2="758.5" stroke="#2c2c2c" stroke-width="2" />
<line x1="202.5" y1="752" x2="202.5" y2="758.5" stroke="#2c2c2c" stroke-width="2" />
<line x1="256.1" y1="752" x2="256.1" y2="758.5" stroke="#2c2c2c" stroke-width="2" />
<line x1="309.7" y1="752" x2="309.7" y2="758.5" stroke="#2c2c2c" stroke-width="2" />
<line x1="363.3" y1="752" x2="363.3" y2="758.5" stroke="#2c2c2c" stroke-width="2" />
<line x1="416.9" y1="752" x2="416.9" y2="758.5" stroke="#2c2c2c" stroke-width="2" />
<line x1="470.5" y1="752" x2="470.5" y2="758.5" stroke="#2c2c2c" stroke-width="2" />
<line x1="122.1" y1="752" x2="122.1" y2="755.5" stroke="#2c2c2c" stroke-width="2" />
<line x1="175.7" y1="752" x2="175.7" y2="755.5" stroke="#2c2c2c" stroke-width="2" />
<line x1="229.3" y1="752" x2="229.3" y2="755.5" stroke="#2c2c2c" stroke-width="2" />
<line x1="282.9" y1="752" x2="282.9" y2="755.5" stroke="#2c2c2c" stroke-width="2" />
<line x1="336.5" y1="752" x2="336.5" y2="755.5" stroke="#2c2c2c" stroke-width="2" />
<line x1="390.1" y1="752" x2="390.1" y2="755.5" stroke="#2c2c2c" stroke-width="2" />
<line x1="443.7" y1="752" x2="443.7" y2="755.5" stroke="#2c2c2c" stroke-width="2" />
<text transform="translate(73.05 758.15) scale(1.0200 1)" font-size="21.6" font-weight="bold" fill="#000">0</text>
<text transform="translate(60.83 715.72) scale(1.0200 1)" font-size="21.6" font-weight="bold" fill="#000">50</text>
<g transform="translate(48.6 673.29) scale(1.0200 1)" fill="#000"><path transform="translate(0 0) scale(0.01055 -0.01055)" d="M478,0 L478,1170 L140,959 L140,1180 L493,1409 L759,1409 L759,0 Z"/><text x="12.01" y="0" font-size="21.6" font-weight="bold">00</text></g>
<g transform="translate(48.6 630.86) scale(1.0200 1)" fill="#000"><path transform="translate(0 0) scale(0.01055 -0.01055)" d="M478,0 L478,1170 L140,959 L140,1180 L493,1409 L759,1409 L759,0 Z"/><text x="12.01" y="0" font-size="21.6" font-weight="bold">50</text></g>
<text transform="translate(48.6 588.43) scale(1.0200 1)" font-size="21.6" font-weight="bold" fill="#000">200</text>
<text transform="translate(48.6 546) scale(1.0200 1)" font-size="21.6" font-weight="bold" fill="#000">250</text>
<text transform="translate(48.6 503.57) scale(1.0200 1)" font-size="21.6" font-weight="bold" fill="#000">300</text>
<text transform="translate(48.6 461.14) scale(1.0200 1)" font-size="21.6" font-weight="bold" fill="#000">350</text>
<text transform="translate(89.19 779.42) scale(1.0200 1)" font-size="21.6" font-weight="bold" fill="#000">0</text>
<text transform="translate(136.73 779.42) scale(1.0200 1)" font-size="21.6" font-weight="bold" fill="#000">20</text>
<text transform="translate(190.55 779.42) scale(1.0200 1)" font-size="21.6" font-weight="bold" fill="#000">40</text>
<text transform="translate(243.93 779.42) scale(1.0200 1)" font-size="21.6" font-weight="bold" fill="#000">60</text>
<text transform="translate(297.58 779.42) scale(1.0200 1)" font-size="21.6" font-weight="bold" fill="#000">80</text>
<g transform="translate(344.68 779.42) scale(1.0200 1)" fill="#000"><path transform="translate(0 0) scale(0.01055 -0.01055)" d="M478,0 L478,1170 L140,959 L140,1180 L493,1409 L759,1409 L759,0 Z"/><text x="12.01" y="0" font-size="21.6" font-weight="bold">00</text></g>
<g transform="translate(398.28 779.42) scale(1.0200 1)" fill="#000"><path transform="translate(0 0) scale(0.01055 -0.01055)" d="M478,0 L478,1170 L140,959 L140,1180 L493,1409 L759,1409 L759,0 Z"/><text x="12.01" y="0" font-size="21.6" font-weight="bold">20</text></g>
<g transform="translate(451.88 779.42) scale(1.0200 1)" fill="#000"><path transform="translate(0 0) scale(0.01055 -0.01055)" d="M478,0 L478,1170 L140,959 L140,1180 L493,1409 L759,1409 L759,0 Z"/><text x="12.01" y="0" font-size="21.6" font-weight="bold">40</text></g>
<rect x="95.08" y="491.7" width="5.8" height="5.8" fill="#000"/>
<rect x="97.76" y="583.1" width="5.8" height="5.8" fill="#000"/>
<rect x="100.24" y="590.4" width="6.2" height="6.2" fill="#000"/>
<rect x="102.92" y="593.22" width="6.2" height="6.2" fill="#000"/>
<rect x="105.6" y="596.03" width="6.2" height="6.2" fill="#000"/>
<rect x="108.28" y="597.98" width="6.2" height="6.2" fill="#000"/>
<rect x="110.96" y="599.09" width="6.2" height="6.2" fill="#000"/>
<rect x="113.64" y="600.21" width="6.2" height="6.2" fill="#000"/>
<rect x="116.32" y="601.22" width="6.2" height="6.2" fill="#000"/>
<rect x="119" y="602.08" width="6.2" height="6.2" fill="#000"/>
<rect x="121.68" y="602.93" width="6.2" height="6.2" fill="#000"/>
<rect x="124.36" y="603.78" width="6.2" height="6.2" fill="#000"/>
<rect x="127.04" y="604.64" width="6.2" height="6.2" fill="#000"/>
<rect x="129.72" y="605.49" width="6.2" height="6.2" fill="#000"/>
<rect x="132.4" y="606.34" width="6.2" height="6.2" fill="#000"/>
<rect x="135.08" y="606.81" width="6.2" height="6.2" fill="#000"/>
<rect x="137.76" y="607.18" width="6.2" height="6.2" fill="#000"/>
<rect x="140.44" y="607.56" width="6.2" height="6.2" fill="#000"/>
<rect x="143.12" y="607.94" width="6.2" height="6.2" fill="#000"/>
<rect x="145.8" y="608.3" width="6.2" height="6.2" fill="#000"/>
<rect x="148.68" y="632.5" width="5.8" height="5.8" fill="#000"/>
<rect x="151.16" y="640.5" width="6.2" height="6.2" fill="#000"/>
<rect x="153.84" y="641.62" width="6.2" height="6.2" fill="#000"/>
<rect x="156.52" y="642.74" width="6.2" height="6.2" fill="#000"/>
<rect x="159.2" y="643.42" width="6.2" height="6.2" fill="#000"/>
<rect x="161.88" y="644.02" width="6.2" height="6.2" fill="#000"/>
<rect x="164.56" y="644.63" width="6.2" height="6.2" fill="#000"/>
<rect x="167.24" y="645.23" width="6.2" height="6.2" fill="#000"/>
<rect x="169.92" y="645.83" width="6.2" height="6.2" fill="#000"/>
<rect x="172.6" y="646.31" width="6.2" height="6.2" fill="#000"/>
<rect x="175.28" y="646.68" width="6.2" height="6.2" fill="#000"/>
<rect x="177.96" y="647.06" width="6.2" height="6.2" fill="#000"/>
<rect x="180.64" y="647.43" width="6.2" height="6.2" fill="#000"/>
<rect x="183.32" y="647.8" width="6.2" height="6.2" fill="#000"/>
<rect x="186" y="648.17" width="6.2" height="6.2" fill="#000"/>
<rect x="188.68" y="648.53" width="6.2" height="6.2" fill="#000"/>
<rect x="191.36" y="648.88" width="6.2" height="6.2" fill="#000"/>
<rect x="194.04" y="649.22" width="6.2" height="6.2" fill="#000"/>
<rect x="196.72" y="649.57" width="6.2" height="6.2" fill="#000"/>
<rect x="199.4" y="649.9" width="6.2" height="6.2" fill="#000"/>
<rect x="202.28" y="685.5" width="5.8" height="5.8" fill="#000"/>
<rect x="204.76" y="690.5" width="6.2" height="6.2" fill="#000"/>
<rect x="207.44" y="691.4" width="6.2" height="6.2" fill="#000"/>
<rect x="210.12" y="692.3" width="6.2" height="6.2" fill="#000"/>
<rect x="212.8" y="693.01" width="6.2" height="6.2" fill="#000"/>
<rect x="215.48" y="693.34" width="6.2" height="6.2" fill="#000"/>
<rect x="218.16" y="693.67" width="6.2" height="6.2" fill="#000"/>
<rect x="220.84" y="693.99" width="6.2" height="6.2" fill="#000"/>
<rect x="223.52" y="694.32" width="6.2" height="6.2" fill="#000"/>
<rect x="226.2" y="694.63" width="6.2" height="6.2" fill="#000"/>
<rect x="228.88" y="694.84" width="6.2" height="6.2" fill="#000"/>
<rect x="231.56" y="695.05" width="6.2" height="6.2" fill="#000"/>
<rect x="234.24" y="695.25" width="6.2" height="6.2" fill="#000"/>
<rect x="236.92" y="695.46" width="6.2" height="6.2" fill="#000"/>
<rect x="239.6" y="695.67" width="6.2" height="6.2" fill="#000"/>
<rect x="242.28" y="695.88" width="6.2" height="6.2" fill="#000"/>
<rect x="244.96" y="696.08" width="6.2" height="6.2" fill="#000"/>
<rect x="247.64" y="696.29" width="6.2" height="6.2" fill="#000"/>
<rect x="250.32" y="696.5" width="6.2" height="6.2" fill="#000"/>
<rect x="253" y="696.7" width="6.2" height="6.2" fill="#000"/>
<rect x="255.88" y="725.3" width="5.8" height="5.8" fill="#000"/>
<rect x="258.36" y="728.1" width="6.2" height="6.2" fill="#000"/>
<rect x="261.04" y="728.3" width="6.2" height="6.2" fill="#000"/>
<rect x="263.72" y="728.5" width="6.2" height="6.2" fill="#000"/>
<rect x="266.4" y="728.71" width="6.2" height="6.2" fill="#000"/>
<rect x="269.08" y="728.91" width="6.2" height="6.2" fill="#000"/>
<rect x="271.76" y="729.11" width="6.2" height="6.2" fill="#000"/>
<rect x="274.44" y="729.31" width="6.2" height="6.2" fill="#000"/>
<rect x="277.12" y="729.51" width="6.2" height="6.2" fill="#000"/>
<rect x="279.8" y="729.57" width="6.2" height="6.2" fill="#000"/>
<rect x="282.48" y="729.63" width="6.2" height="6.2" fill="#000"/>
<rect x="285.16" y="729.7" width="6.2" height="6.2" fill="#000"/>
<rect x="287.84" y="729.76" width="6.2" height="6.2" fill="#000"/>
<rect x="290.52" y="729.82" width="6.2" height="6.2" fill="#000"/>
<rect x="293.2" y="729.89" width="6.2" height="6.2" fill="#000"/>
<rect x="295.88" y="729.95" width="6.2" height="6.2" fill="#000"/>
<rect x="298.56" y="730.01" width="6.2" height="6.2" fill="#000"/>
<rect x="301.24" y="730.08" width="6.2" height="6.2" fill="#000"/>
<rect x="303.92" y="730.14" width="6.2" height="6.2" fill="#000"/>
<rect x="306.6" y="730.2" width="6.2" height="6.2" fill="#000"/>
<rect x="309.48" y="653.7" width="5.8" height="5.8" fill="#000"/>
<rect x="311.96" y="622.9" width="6.2" height="6.2" fill="#000"/>
<rect x="314.64" y="621.36" width="6.2" height="6.2" fill="#000"/>
<rect x="317.32" y="619.81" width="6.2" height="6.2" fill="#000"/>
<rect x="320" y="618.53" width="6.2" height="6.2" fill="#000"/>
<rect x="322.68" y="617.62" width="6.2" height="6.2" fill="#000"/>
<rect x="325.36" y="616.71" width="6.2" height="6.2" fill="#000"/>
<rect x="328.04" y="615.81" width="6.2" height="6.2" fill="#000"/>
<rect x="330.72" y="614.9" width="6.2" height="6.2" fill="#000"/>
<rect x="333.4" y="614.15" width="6.2" height="6.2" fill="#000"/>
<rect x="336.08" y="613.52" width="6.2" height="6.2" fill="#000"/>
<rect x="338.76" y="612.89" width="6.2" height="6.2" fill="#000"/>
<rect x="341.44" y="612.27" width="6.2" height="6.2" fill="#000"/>
<rect x="344.12" y="611.64" width="6.2" height="6.2" fill="#000"/>
<rect x="346.8" y="611.01" width="6.2" height="6.2" fill="#000"/>
<rect x="349.48" y="610.62" width="6.2" height="6.2" fill="#000"/>
<rect x="352.16" y="610.36" width="6.2" height="6.2" fill="#000"/>
<rect x="354.84" y="610.09" width="6.2" height="6.2" fill="#000"/>
<rect x="357.52" y="609.83" width="6.2" height="6.2" fill="#000"/>
<rect x="360.2" y="609.56" width="6.2" height="6.2" fill="#000"/>
<rect x="362.88" y="609.3" width="6.2" height="6.2" fill="#000"/>
<rect x="365.56" y="609.03" width="6.2" height="6.2" fill="#000"/>
<rect x="368.24" y="608.84" width="6.2" height="6.2" fill="#000"/>
<rect x="370.92" y="608.72" width="6.2" height="6.2" fill="#000"/>
<rect x="373.6" y="608.6" width="6.2" height="6.2" fill="#000"/>
<rect x="376.28" y="608.48" width="6.2" height="6.2" fill="#000"/>
<rect x="378.96" y="608.36" width="6.2" height="6.2" fill="#000"/>
<rect x="381.64" y="608.24" width="6.2" height="6.2" fill="#000"/>
<rect x="384.32" y="608.12" width="6.2" height="6.2" fill="#000"/>
<rect x="387" y="608" width="6.2" height="6.2" fill="#000"/>
<rect x="389.68" y="608.13" width="6.2" height="6.2" fill="#000"/>
<rect x="392.36" y="609.4" width="6.2" height="6.2" fill="#000"/>
<rect x="395.04" y="608.4" width="6.2" height="6.2" fill="#000"/>
<rect x="397.72" y="606.58" width="6.2" height="6.2" fill="#000"/>
<rect x="400.4" y="606.19" width="6.2" height="6.2" fill="#000"/>
<rect x="403.08" y="605.79" width="6.2" height="6.2" fill="#000"/>
<rect x="405.76" y="605.4" width="6.2" height="6.2" fill="#000"/>
<rect x="408.44" y="605.01" width="6.2" height="6.2" fill="#000"/>
<rect x="411.12" y="604.61" width="6.2" height="6.2" fill="#000"/>
<rect x="413.8" y="604.3" width="6.2" height="6.2" fill="#000"/>
<rect x="416.48" y="604.02" width="6.2" height="6.2" fill="#000"/>
<rect x="419.16" y="603.73" width="6.2" height="6.2" fill="#000"/>
<rect x="421.84" y="603.45" width="6.2" height="6.2" fill="#000"/>
<rect x="424.52" y="603.16" width="6.2" height="6.2" fill="#000"/>
<rect x="427.2" y="602.88" width="6.2" height="6.2" fill="#000"/>
<rect x="429.88" y="602.6" width="6.2" height="6.2" fill="#000"/>
<rect x="432.56" y="602.39" width="6.2" height="6.2" fill="#000"/>
<rect x="435.24" y="602.22" width="6.2" height="6.2" fill="#000"/>
<rect x="437.92" y="602.06" width="6.2" height="6.2" fill="#000"/>
<rect x="440.6" y="601.89" width="6.2" height="6.2" fill="#000"/>
<rect x="443.28" y="601.72" width="6.2" height="6.2" fill="#000"/>
<rect x="445.96" y="601.56" width="6.2" height="6.2" fill="#000"/>
<rect x="448.64" y="601.43" width="6.2" height="6.2" fill="#000"/>
<rect x="451.32" y="601.33" width="6.2" height="6.2" fill="#000"/>
<rect x="454" y="601.22" width="6.2" height="6.2" fill="#000"/>
<rect x="456.68" y="601.11" width="6.2" height="6.2" fill="#000"/>
<rect x="459.36" y="601.01" width="6.2" height="6.2" fill="#000"/>
<rect x="462.04" y="600.9" width="6.2" height="6.2" fill="#000"/>
<rect x="464.72" y="600.8" width="6.2" height="6.2" fill="#000"/>
<g transform="translate(107.79 511.32) scale(1.0000 1)" fill="#e3262a" stroke="#e3262a" stroke-width="0.5" stroke-linejoin="round"><path transform="translate(0 0) scale(0.00874 -0.00874)" d="M478,0 L478,1170 L140,959 L140,1180 L493,1409 L759,1409 L759,0 Z"/><text x="9.95" y="0" font-size="17.89" font-weight="bold">C</text></g>
<text transform="translate(158.43 509.78) scale(1.0000 1)" font-size="17.78" font-weight="bold" fill="#e3262a" stroke="#e3262a" stroke-width="0.5" stroke-linejoin="round">2C</text>
<text transform="translate(216.03 510.45) scale(1.0000 1)" font-size="17.38" font-weight="bold" fill="#e3262a" stroke="#e3262a" stroke-width="0.5" stroke-linejoin="round">5C</text>
<g transform="translate(262.85 510.64) scale(1.0000 1)" fill="#e3262a" stroke="#e3262a" stroke-width="0.5" stroke-linejoin="round"><path transform="translate(0 0) scale(0.00898 -0.00898)" d="M478,0 L478,1170 L140,959 L140,1180 L493,1409 L759,1409 L759,0 Z"/><text x="10.23" y="0" font-size="18.39" font-weight="bold">0C</text></g>
<g transform="translate(384.95 514.1) scale(1.0000 1)" fill="#e3262a" stroke="#e3262a" stroke-width="0.5" stroke-linejoin="round"><path transform="translate(0 0) scale(0.00828 -0.00828)" d="M478,0 L478,1170 L140,959 L140,1180 L493,1409 L759,1409 L759,0 Z"/><text x="9.43" y="0" font-size="16.96" font-weight="bold">C</text></g>
<g transform="translate(107.81 586.88) scale(1.0000 1)" fill="#1a1a1a"><path transform="translate(0 0) scale(0.00896 -0.00896)" d="M478,0 L478,1170 L140,959 L140,1180 L493,1409 L759,1409 L759,0 Z"/><text x="10.2" y="0" font-size="18.35" font-weight="bold">65</text></g>
<line x1="139.5" y1="591.1" x2="147.92" y2="603.62" stroke="#2e2e2e" stroke-width="1.35" stroke-linecap="round"/>
<polygon points="150.6,607.6 146.46,605.56 146.13,600.96 150.28,603" fill="#111"/>
<g transform="translate(156.36 631.05) scale(1.0000 1)" fill="#1a1a1a"><path transform="translate(0 0) scale(0.00935 -0.00935)" d="M478,0 L478,1170 L140,959 L140,1180 L493,1409 L759,1409 L759,0 Z"/><path transform="translate(9.59 0) scale(0.00935 -0.00935)" d="M478,0 L478,1170 L140,959 L140,1180 L493,1409 L759,1409 L759,0 Z"/><text x="20.23" y="0" font-size="19.14" font-weight="bold">6</text></g>
<line x1="192" y1="632.3" x2="200.93" y2="645.61" stroke="#2e2e2e" stroke-width="1.35" stroke-linecap="round"/>
<polygon points="203.6,649.6 199.46,647.56 199.14,642.96 203.28,645" fill="#111"/>
<g transform="translate(222.62 679.8) scale(1.0000 1)" fill="#1a1a1a"><text x="0" y="0" font-size="16.67" font-weight="bold">6</text><path transform="translate(9.27 0) scale(0.00814 -0.00814)" d="M478,0 L478,1170 L140,959 L140,1180 L493,1409 L759,1409 L759,0 Z"/></g>
<line x1="248" y1="680.2" x2="254.2" y2="689.33" stroke="#2e2e2e" stroke-width="1.35" stroke-linecap="round"/>
<polygon points="256.9,693.3 252.75,691.28 252.4,686.68 256.55,688.7" fill="#111"/>
<g transform="translate(273.68 709.85) scale(1.0000 1)" fill="#1a1a1a"><text x="0" y="0" font-size="17.71" font-weight="bold">2</text><path transform="translate(9.85 0) scale(0.00865 -0.00865)" d="M478,0 L478,1170 L140,959 L140,1180 L493,1409 L759,1409 L759,0 Z"/></g>
<line x1="299.9" y1="711.7" x2="307.03" y2="722.95" stroke="#2e2e2e" stroke-width="1.35" stroke-linecap="round"/>
<polygon points="309.6,727 305.52,724.85 305.32,720.24 309.4,722.39" fill="#111"/>
<g transform="translate(420 580.93) scale(1.0000 1)" fill="#1a1a1a"><path transform="translate(0 0) scale(0.00902 -0.00902)" d="M478,0 L478,1170 L140,959 L140,1180 L493,1409 L759,1409 L759,0 Z"/><text x="10.28" y="0" font-size="18.48" font-weight="bold">75</text></g>
<line x1="457" y1="582.3" x2="464.33" y2="594.49" stroke="#2e2e2e" stroke-width="1.35" stroke-linecap="round"/>
<polygon points="466.8,598.6 462.77,596.36 462.68,591.74 466.71,593.99" fill="#111"/>
<text transform="translate(449.45 497.83) scale(0.7113 1)" font-size="47.7" font-weight="bold" fill="#000" stroke="#000" stroke-width="1.55" stroke-linejoin="round">(</text>
<text transform="translate(465.91 497.65) scale(0.8103 1)" font-size="46.62" font-weight="bold" fill="#000" stroke="#000" stroke-width="1.36" stroke-linejoin="round">i</text>
<text transform="translate(480.99 497.83) scale(0.6813 1)" font-size="47.7" font-weight="bold" fill="#000" stroke="#000" stroke-width="1.61" stroke-linejoin="round">)</text>
<text transform="translate(194.67 806.88) scale(1.0748 1)" font-size="28.66" font-weight="bold" fill="#000">Cycle number</text>
<text transform="translate(41.35 800.42) rotate(-90) scale(1.0415 1)" font-size="29.3" font-weight="bold" fill="#000">Specific capacity</text>
<text transform="translate(41 541.57) rotate(-90) scale(0.8237 1)" font-size="30.7" font-weight="normal" fill="#000" stroke="#000" stroke-width="0.5" stroke-linejoin="round">(</text>
<text transform="translate(41.35 531.76) rotate(-90) scale(1.0294 1)" font-size="29.3" font-weight="bold" fill="#000">mAh g</text>
<g transform="translate(24.6 437.6) rotate(-90) scale(1.0000 1)" fill="#000" stroke="#000" stroke-width="0.8" stroke-linejoin="round"><text x="0" y="0" font-size="19" font-weight="normal">-</text><path transform="translate(6.33 0) scale(0.00928 -0.00928)" d="M515,0 L515,1237 L197,1010 L197,1180 L530,1409 L696,1409 L696,0 Z"/></g>
<text transform="translate(41.12 418.73) rotate(-90) scale(0.9748 1)" font-size="29.2" font-weight="normal" fill="#000" stroke="#000" stroke-width="0.5" stroke-linejoin="round">)</text>
<rect x="613.5" y="41.3" width="404" height="299.5" fill="none" stroke="#2c2c2c" stroke-width="2.3"/>
<line x1="607" y1="316.6" x2="613.5" y2="316.6" stroke="#2c2c2c" stroke-width="2" />
<line x1="607" y1="276.1" x2="613.5" y2="276.1" stroke="#2c2c2c" stroke-width="2" />
<line x1="607" y1="235.6" x2="613.5" y2="235.6" stroke="#2c2c2c" stroke-width="2" />
<line x1="607" y1="195.1" x2="613.5" y2="195.1" stroke="#2c2c2c" stroke-width="2" />
<line x1="607" y1="154.6" x2="613.5" y2="154.6" stroke="#2c2c2c" stroke-width="2" />
<line x1="607" y1="114.1" x2="613.5" y2="114.1" stroke="#2c2c2c" stroke-width="2" />
<line x1="607" y1="73.6" x2="613.5" y2="73.6" stroke="#2c2c2c" stroke-width="2" />
<line x1="610" y1="336.85" x2="613.5" y2="336.85" stroke="#2c2c2c" stroke-width="2" />
<line x1="610" y1="296.35" x2="613.5" y2="296.35" stroke="#2c2c2c" stroke-width="2" />
<line x1="610" y1="255.85" x2="613.5" y2="255.85" stroke="#2c2c2c" stroke-width="2" />
<line x1="610" y1="215.35" x2="613.5" y2="215.35" stroke="#2c2c2c" stroke-width="2" />
<line x1="610" y1="174.85" x2="613.5" y2="174.85" stroke="#2c2c2c" stroke-width="2" />
<line x1="610" y1="134.35" x2="613.5" y2="134.35" stroke="#2c2c2c" stroke-width="2" />
<line x1="610" y1="93.85" x2="613.5" y2="93.85" stroke="#2c2c2c" stroke-width="2" />
<line x1="610" y1="53.35" x2="613.5" y2="53.35" stroke="#2c2c2c" stroke-width="2" />
<line x1="642.1" y1="340.8" x2="642.1" y2="347.3" stroke="#2c2c2c" stroke-width="2" />
<line x1="728.71" y1="340.8" x2="728.71" y2="347.3" stroke="#2c2c2c" stroke-width="2" />
<line x1="815.32" y1="340.8" x2="815.32" y2="347.3" stroke="#2c2c2c" stroke-width="2" />
<line x1="901.93" y1="340.8" x2="901.93" y2="347.3" stroke="#2c2c2c" stroke-width="2" />
<line x1="988.54" y1="340.8" x2="988.54" y2="347.3" stroke="#2c2c2c" stroke-width="2" />
<line x1="685.4" y1="340.8" x2="685.4" y2="344.3" stroke="#2c2c2c" stroke-width="2" />
<line x1="772.01" y1="340.8" x2="772.01" y2="344.3" stroke="#2c2c2c" stroke-width="2" />
<line x1="858.62" y1="340.8" x2="858.62" y2="344.3" stroke="#2c2c2c" stroke-width="2" />
<line x1="945.24" y1="340.8" x2="945.24" y2="344.3" stroke="#2c2c2c" stroke-width="2" />
<text transform="translate(572.26 322.75) scale(1.0200 1)" font-size="21.6" font-weight="bold" fill="#000">0.0</text>
<text transform="translate(571.93 282.25) scale(1.0200 1)" font-size="21.6" font-weight="bold" fill="#000">0.5</text>
<g transform="translate(572.26 241.75) scale(1.0200 1)" fill="#000"><path transform="translate(0 0) scale(0.01055 -0.01055)" d="M478,0 L478,1170 L140,959 L140,1180 L493,1409 L759,1409 L759,0 Z"/><text x="12.01" y="0" font-size="21.6" font-weight="bold">.0</text></g>
<g transform="translate(571.93 201.14) scale(1.0200 1)" fill="#000"><path transform="translate(0 0) scale(0.01055 -0.01055)" d="M478,0 L478,1170 L140,959 L140,1180 L493,1409 L759,1409 L759,0 Z"/><text x="12.01" y="0" font-size="21.6" font-weight="bold">.5</text></g>
<text transform="translate(572.26 160.75) scale(1.0200 1)" font-size="21.6" font-weight="bold" fill="#000">2.0</text>
<text transform="translate(571.93 120.25) scale(1.0200 1)" font-size="21.6" font-weight="bold" fill="#000">2.5</text>
<text transform="translate(572.26 79.75) scale(1.0200 1)" font-size="21.6" font-weight="bold" fill="#000">3.0</text>
<text transform="translate(635.99 368.52) scale(1.0200 1)" font-size="21.6" font-weight="bold" fill="#000">0</text>
<text transform="translate(710.53 368.52) scale(1.0200 1)" font-size="21.6" font-weight="bold" fill="#000">300</text>
<text transform="translate(797.03 368.52) scale(1.0200 1)" font-size="21.6" font-weight="bold" fill="#000">600</text>
<text transform="translate(883.64 368.52) scale(1.0200 1)" font-size="21.6" font-weight="bold" fill="#000">900</text>
<g transform="translate(963.75 368.52) scale(1.0200 1)" fill="#000"><path transform="translate(0 0) scale(0.01055 -0.01055)" d="M478,0 L478,1170 L140,959 L140,1180 L493,1409 L759,1409 L759,0 Z"/><text x="12.01" y="0" font-size="21.6" font-weight="bold">200</text></g>
<path d="M642.1,153.7 C642.19,157.42 642.38,167.62 642.6,174 C642.82,180.38 642.58,185.29 643.3,188.5 C644.01,191.71 644.47,190.23 646.5,191.5 C648.53,192.77 651.52,193.44 654.4,195.4 C657.28,197.36 659.5,199.16 662.2,202.2 C664.9,205.24 666.77,208.24 669.1,212 C671.43,215.76 672.75,218.57 674.9,222.7 C677.04,226.82 679.04,231.05 680.8,234.5 C682.56,237.95 682.81,238.75 684.5,241.5 C686.19,244.25 687.45,246.2 690,249.5 C692.55,252.8 695.43,255.69 698.4,259.5 C701.37,263.31 703.52,267.07 706.2,270.3 C708.88,273.53 710.51,274.61 713,277.1 C715.49,279.59 717.1,281.39 719.8,283.9 C722.5,286.41 725.15,288.82 727.7,290.8 C730.25,292.78 730.11,292.48 733.7,294.7 C737.29,296.92 742.55,300.64 747.3,302.9 C752.05,305.15 752.07,305.99 759.6,307 C767.13,308.01 775.6,307.9 788.4,308.4 C801.2,308.89 816.27,309.33 829.4,309.7 C842.53,310.07 841.56,309.89 860,310.4 C878.44,310.91 905.65,311.66 930,312.5 C954.35,313.34 981.29,314.54 992.8,315" fill="none" stroke="#1a1a1a" stroke-width="2.3" stroke-linecap="round" stroke-linejoin="round"/>
<path d="M642,314 C643.03,312.75 645.14,309.53 647.6,307.2 C650.06,304.87 652.36,303.1 655.4,301.3 C658.44,299.5 659.91,298.65 664.2,297.4 C668.49,296.15 672.53,295.65 678.8,294.5 C685.07,293.35 691.23,292.53 698.4,291.1 C705.57,289.67 710.18,288.15 717.9,286.7 C725.62,285.25 733.15,284.39 740.5,283.2 C747.85,282.01 752.59,281.23 758,280.2 C763.41,279.17 764.15,278.99 770,277.6 C775.85,276.21 782.6,275.08 789.9,272.6 C797.2,270.12 803.73,267.36 809.8,264.1 C815.87,260.84 818.88,258.45 823,254.8 C827.12,251.15 829.38,248.56 832.3,244.2 C835.21,239.84 836.72,236.1 838.9,231 C841.08,225.9 842.26,221.75 844.2,216.4 C846.14,211.05 847.56,206.86 849.5,201.8 C851.44,196.74 853.33,191.51 854.8,188.8 C856.27,186.09 857,187.33 857.5,187 C859.06,186.89 861.97,186.73 866,186.4 C870.03,186.07 876.55,185.64 879.5,185.2 C882.45,184.76 881.06,185.38 882.1,184 C883.14,182.62 884.19,181.72 885.2,177.7 C886.21,173.68 885.44,172.72 887.6,162.1 C889.76,151.48 893.7,134.72 897,119.8 C900.3,104.88 903.88,89.17 905.6,80.7 C907.32,72.23 906.25,74.9 906.4,73.6" fill="none" stroke="#1a1a1a" stroke-width="2.3" stroke-linecap="round" stroke-linejoin="round"/>
<path d="M641.7,312.8 C642.78,311.63 645.09,308.65 647.6,306.4 C650.11,304.14 652.36,302.3 655.4,300.5 C658.44,298.7 659.91,297.85 664.2,296.6 C668.49,295.35 672.53,294.86 678.8,293.7 C685.07,292.54 691.23,291.73 698.4,290.3 C705.57,288.87 710.18,287.35 717.9,285.9 C725.62,284.45 733.15,283.57 740.5,282.4 C747.85,281.23 752.59,280.55 758,279.5 C763.41,278.45 764.88,278.06 770,276.7 C775.12,275.34 781.04,274.17 785.9,272.1 C790.76,270.03 792.85,268.33 796.5,265.4 C800.15,262.47 802.88,259.49 805.8,256.1 C808.71,252.71 809.98,251.03 812.4,246.9 C814.82,242.78 816.56,238.95 819,233.6 C821.44,228.25 823.26,223.53 825.7,217.7 C828.14,211.87 829.99,207.36 832.3,201.8 C834.61,196.25 837.2,190.04 838.3,187.4 C840.44,187.11 845.29,186.31 850,185.8 C854.71,185.29 861.43,184.82 864,184.6 C864.73,183.33 866.83,181.82 868,177.7 C869.17,173.57 868.38,172.72 870.4,162.1 C872.42,151.48 875.85,134.72 879,119.8 C882.15,104.88 885.51,89.32 887.6,80.7 C889.69,72.08 889.89,74.25 890.4,72.8" fill="none" stroke="#1f1fd6" stroke-width="2.3" stroke-linecap="round" stroke-linejoin="round"/>
<path d="M642.1,126.7 C642.19,131.3 642.36,141.2 642.6,151.8 C642.84,162.4 642.68,177.62 643.4,184.5 C644.12,191.38 643.37,188.24 646.5,189.3 C649.63,190.36 657.2,189.71 660.5,190.3 C663.8,190.89 663.25,191.36 664.5,192.5 C665.75,193.64 666.46,194.35 667.3,196.5 C668.14,198.65 668.24,200.46 669.1,204.2 C669.96,207.94 670.94,212.43 672,216.9 C673.06,221.37 674.02,224.37 674.9,228.6 C675.78,232.83 675.9,235.89 676.8,240 C677.7,244.11 678.53,247.06 679.8,251 C681.06,254.94 682.09,257.25 683.7,261.5 C685.31,265.75 686.62,270.26 688.6,274.2 C690.58,278.14 692.17,280.14 694.5,283 C696.83,285.86 697.91,287.84 701.3,289.8 C704.69,291.76 707.74,292.36 713,293.7 C718.26,295.04 723.71,296.17 730,297.1 C736.29,298.04 739.1,297.74 747.3,298.8 C755.5,299.86 764.67,301.4 774.7,302.9 C784.73,304.4 791.97,305.84 802,307 C812.03,308.16 818.77,308.54 829.4,309.2 C840.03,309.86 846.41,309.46 860,310.6 C873.59,311.74 895.52,314.52 903.5,315.4" fill="none" stroke="#1f1fd6" stroke-width="2.3" stroke-linecap="round" stroke-linejoin="round"/>
<path d="M642.6,175 C642.78,177.29 643.07,183.87 643.6,187.5 C644.13,191.13 644.05,191.92 645.5,194.8 C646.95,197.68 649.69,199.7 651.5,203.2 C653.31,206.7 653.97,209.96 655.4,213.9 C656.83,217.84 658,220.56 659.3,224.7 C660.6,228.84 661.38,231.77 662.5,236.5 C663.62,241.23 664.19,246.28 665.4,250.5 C666.61,254.72 667.54,256.42 669.1,259.5 C670.66,262.58 672.29,264.26 673.9,267.3 C675.51,270.34 676.29,272.32 677.9,276.1 C679.51,279.88 680.74,283.77 682.7,287.9 C684.66,292.02 685.72,295.21 688.6,298.6 C691.48,301.99 693.93,304.25 698.4,306.4 C702.87,308.54 707.21,308.87 713,310.3 C718.79,311.73 725.14,313.25 730,314.2 C734.86,315.15 737.76,315.26 739.5,315.5" fill="none" stroke="#e3262a" stroke-width="2.3" stroke-linecap="round" stroke-linejoin="round"/>
<path d="M642.2,300.5 C643.19,299.44 645.36,297.01 647.6,294.7 C649.84,292.39 651.72,290.59 654.4,287.9 C657.08,285.2 659.5,282.88 662.2,280 C664.9,277.12 667.12,274.88 669.1,272.2 C671.08,269.52 671.39,269.16 673,265.4 C674.61,261.64 676.29,256.36 677.9,251.7 C679.51,247.04 680.55,245.13 681.8,240 C683.05,234.87 683.11,230.26 684.7,223.7 C686.3,217.14 688.69,210.71 690.5,204.2 C692.31,197.69 693.23,192.09 694.6,188.2 C695.98,184.31 696.55,184.39 698,183 C699.45,181.61 700.3,181.33 702.5,180.6 C704.7,179.87 707.62,179.79 710,179 C712.38,178.21 713.79,177.86 715.5,176.3 C717.21,174.74 718.2,173.4 719.3,170.5 C720.4,167.6 720.4,165.25 721.5,160.5 C722.6,155.75 723.36,154.32 725.3,144.6 C727.24,134.88 729.77,120.33 732.1,107.5 C734.43,94.67 736.92,80.63 738,74.6" fill="none" stroke="#e3262a" stroke-width="2.3" stroke-linecap="round" stroke-linejoin="round"/>
<path d="M643.1,187.5 C643.38,190.19 643.59,196.81 644.6,202.2 C645.61,207.59 646.99,211.71 648.6,216.9 C650.21,222.09 651.86,225.81 653.4,230.5 C654.94,235.19 655.74,238.74 657,242.5 C658.26,246.26 659.16,247.88 660.3,251 C661.44,254.12 661.77,256.29 663.2,259.5 C664.63,262.71 666.3,265.62 668.1,268.5 C669.9,271.38 671.2,272.19 673,275.2 C674.8,278.21 676.12,280.98 677.9,284.9 C679.68,288.82 680.74,292.29 682.7,296.6 C684.66,300.91 685.91,304.99 688.6,308.4 C691.29,311.81 695.79,313.95 697.4,315.2" fill="none" stroke="#2be02b" stroke-width="2.3" stroke-linecap="round" stroke-linejoin="round"/>
<path d="M642.2,291.8 C643.01,289.82 645.08,285.12 646.6,281 C648.12,276.88 649.25,273.96 650.5,269.3 C651.75,264.64 652.48,260.97 653.4,255.6 C654.32,250.23 654.84,244.95 655.5,240 C656.16,235.05 656.3,234.26 657,228.6 C657.7,222.94 658.51,216.27 659.3,209.1 C660.09,201.93 660.47,194.84 661.3,189.5 C662.12,184.16 662.26,183.28 663.8,180 C665.34,176.72 666.77,174.07 669.7,171.6 C672.63,169.12 676.87,168.97 679.8,166.5 C682.73,164.03 684,164.28 685.7,158.1 C687.41,151.92 687.71,143.64 689.1,132.8 C690.49,121.97 691.92,109.98 693.3,99 C694.67,88.02 696,77.69 696.6,72.9" fill="none" stroke="#2be02b" stroke-width="2.3" stroke-linecap="round" stroke-linejoin="round"/>
<path d="M643.2,214.9 C643.64,216.7 644.7,221.11 645.6,224.7 C646.5,228.29 647.38,230.21 648.1,234.5 C648.82,238.79 648.53,242.97 649.5,248.1 C650.47,253.23 651.79,257.53 653.4,262.5 C655.01,267.47 656.32,271.44 658.3,275.2 C660.28,278.96 661.87,279.96 664.2,283 C666.53,286.04 668.67,288.23 671,291.8 C673.33,295.38 674.66,298.3 676.9,302.5 C679.14,306.7 682.05,312.46 683.2,314.7" fill="none" stroke="#8a2be2" stroke-width="2.3" stroke-linecap="round" stroke-linejoin="round"/>
<path d="M642.7,278.6 C643.23,276.53 644.61,271.7 645.6,267.3 C646.59,262.9 647.4,259.61 648.1,254.6 C648.8,249.59 648.78,246.56 649.4,240 C650.02,233.44 650.8,226.26 651.5,218.8 C652.2,211.34 652.74,206.41 653.2,199.3 C653.66,192.19 653.58,185.83 654,180 C654.42,174.17 654.58,171.79 655.5,167.5 C656.42,163.21 657.13,159.83 659,156.6 C660.87,153.37 663.28,152.72 665.7,149.9 C668.12,147.08 670.09,145.89 672.2,141.2 C674.31,136.51 675.66,132.64 677.2,124.3 C678.74,115.96 679.5,104.81 680.6,95.7 C681.7,86.59 682.72,78.47 683.2,74.6" fill="none" stroke="#8a2be2" stroke-width="2.3" stroke-linecap="round" stroke-linejoin="round"/>
<path d="M645.5,190 C645.45,186 644.94,175.61 645.2,168.2 C645.46,160.79 645.97,155.8 646.9,149.6 C647.83,143.4 648.59,139.35 650.3,134.4 C652,129.45 654.2,126.61 656.2,122.6 C658.2,118.58 659.66,118.37 661.2,112.5 C662.74,106.63 663.67,98.17 664.6,90.6 C665.53,83.03 665.99,74.76 666.3,71.2" fill="none" stroke="#f08c2c" stroke-width="2.3" stroke-linecap="round" stroke-linejoin="round"/>
<path d="M644.2,246.8 C644.64,249.13 645.45,254.48 646.6,259.5 C647.75,264.52 649.16,268.83 650.5,274.2 C651.84,279.57 652.65,283.61 653.9,288.8 C655.15,293.99 655.94,298.74 657.3,302.5 C658.66,306.26 659.59,306.97 661.3,309.3 C663,311.63 665.63,314.12 666.6,315.2" fill="none" stroke="#f08c2c" stroke-width="2.3" stroke-linecap="round" stroke-linejoin="round"/>
<text transform="translate(651.17 58.12) scale(1.0000 1)" font-size="16.15" font-weight="bold" fill="#f08c2c" stroke="#f08c2c" stroke-width="0.5" stroke-linejoin="round">5C</text>
<text transform="translate(675.08 58.14) scale(1.0000 1)" font-size="16.21" font-weight="bold" fill="#8a2be2" stroke="#8a2be2" stroke-width="0.5" stroke-linejoin="round">2C</text>
<g transform="translate(697.81 58.08) scale(1.0000 1)" fill="#2be02b" stroke="#2be02b" stroke-width="0.5" stroke-linejoin="round"><path transform="translate(0 0) scale(0.00783 -0.00783)" d="M478,0 L478,1170 L140,959 L140,1180 L493,1409 L759,1409 L759,0 Z"/><text x="8.92" y="0" font-size="16.03" font-weight="bold">C</text></g>
<text transform="translate(735.08 58.3) scale(1.0000 1)" font-size="16.67" font-weight="bold" fill="#e3262a" stroke="#e3262a" stroke-width="0.5" stroke-linejoin="round">0.5C</text>
<g transform="translate(810.94 60.64) scale(1.0000 1)" fill="#1f1fd6" stroke="#1f1fd6" stroke-width="0.5" stroke-linejoin="round"><text x="0" y="0" font-size="17.84" font-weight="bold">0.</text><path transform="translate(14.88 0) scale(0.00871 -0.00871)" d="M478,0 L478,1170 L140,959 L140,1180 L493,1409 L759,1409 L759,0 Z"/><text x="24.8" y="0" font-size="17.84" font-weight="bold">C@5th</text></g>
<g transform="translate(924.89 62.81) scale(1.0000 1)" fill="#1a1a1a"><text x="0" y="0" font-size="17.86" font-weight="bold">0.</text><path transform="translate(14.89 0) scale(0.00872 -0.00872)" d="M478,0 L478,1170 L140,959 L140,1180 L493,1409 L759,1409 L759,0 Z"/><text x="24.82" y="0" font-size="17.86" font-weight="bold">C@</text><path transform="translate(55.13 0) scale(0.00872 -0.00872)" d="M478,0 L478,1170 L140,959 L140,1180 L493,1409 L759,1409 L759,0 Z"/><text x="65.06" y="0" font-size="17.86" font-weight="bold">st</text></g>
<line x1="661.2" y1="57.3" x2="664.37" y2="66.09" stroke="#2e2e2e" stroke-width="1.35" stroke-linecap="round"/>
<polygon points="666,70.6 662.48,67.62 663.28,63.08 666.81,66.06" fill="#111"/>
<line x1="679" y1="58.7" x2="682.35" y2="69.32" stroke="#2e2e2e" stroke-width="1.35" stroke-linecap="round"/>
<polygon points="683.8,73.9 680.4,70.78 681.39,66.27 684.79,69.39" fill="#111"/>
<line x1="705" y1="60.7" x2="698.44" y2="68.69" stroke="#2e2e2e" stroke-width="1.35" stroke-linecap="round"/>
<polygon points="695.4,72.4 696.16,67.85 700.47,66.22 699.72,70.77" fill="#111"/>
<line x1="748.7" y1="59.4" x2="740.6" y2="70.7" stroke="#2e2e2e" stroke-width="1.35" stroke-linecap="round"/>
<polygon points="737.8,74.6 738.26,70.01 742.46,68.1 742,72.69" fill="#111"/>
<line x1="855.8" y1="67.3" x2="882.73" y2="77.85" stroke="#2e2e2e" stroke-width="1.35" stroke-linecap="round"/>
<polygon points="887.2,79.6 882.64,80.28 879.75,76.68 884.31,76" fill="#111"/>
<line x1="954.8" y1="69.7" x2="911.82" y2="81.8" stroke="#2e2e2e" stroke-width="1.35" stroke-linecap="round"/>
<polygon points="907.2,83.1 910.43,79.8 914.9,80.93 911.67,84.23" fill="#111"/>
<text transform="translate(635.17 335.54) scale(1.0000 1)" font-size="16.07" font-weight="bold" fill="#f08c2c" stroke="#f08c2c" stroke-width="0.5" stroke-linejoin="round">5C</text>
<text transform="translate(667.69 335.57) scale(1.0000 1)" font-size="16.13" font-weight="bold" fill="#8a2be2" stroke="#8a2be2" stroke-width="0.5" stroke-linejoin="round">2C</text>
<g transform="translate(699.72 335.44) scale(1.0000 1)" fill="#2be02b" stroke="#2be02b" stroke-width="0.5" stroke-linejoin="round"><path transform="translate(0 0) scale(0.00771 -0.00771)" d="M478,0 L478,1170 L140,959 L140,1180 L493,1409 L759,1409 L759,0 Z"/><text x="8.78" y="0" font-size="15.78" font-weight="bold">C</text></g>
<text transform="translate(746.69 335.67) scale(1.0000 1)" font-size="16.43" font-weight="bold" fill="#e3262a" stroke="#e3262a" stroke-width="0.5" stroke-linejoin="round">0.5C</text>
<g transform="translate(833.93 336.6) scale(1.0000 1)" fill="#1f1fd6" stroke="#1f1fd6" stroke-width="0.5" stroke-linejoin="round"><text x="0" y="0" font-size="17.88" font-weight="bold">0.</text><path transform="translate(14.91 0) scale(0.00873 -0.00873)" d="M478,0 L478,1170 L140,959 L140,1180 L493,1409 L759,1409 L759,0 Z"/><text x="24.86" y="0" font-size="17.88" font-weight="bold">C@5th</text></g>
<g transform="translate(930.19 335.55) scale(1.0000 1)" fill="#1a1a1a"><text x="0" y="0" font-size="17.83" font-weight="bold">0.</text><path transform="translate(14.87 0) scale(0.00871 -0.00871)" d="M478,0 L478,1170 L140,959 L140,1180 L493,1409 L759,1409 L759,0 Z"/><text x="24.79" y="0" font-size="17.83" font-weight="bold">C@</text><path transform="translate(55.06 0) scale(0.00871 -0.00871)" d="M478,0 L478,1170 L140,959 L140,1180 L493,1409 L759,1409 L759,0 Z"/><text x="64.98" y="0" font-size="17.83" font-weight="bold">st</text></g>
<line x1="646.4" y1="321.6" x2="655.75" y2="314.1" stroke="#2e2e2e" stroke-width="1.35" stroke-linecap="round"/>
<polygon points="659.5,311.1 657.82,315.4 653.26,316.1 654.94,311.81" fill="#111"/>
<line x1="675.4" y1="323.4" x2="677.38" y2="317.45" stroke="#2e2e2e" stroke-width="1.35" stroke-linecap="round"/>
<polygon points="678.9,312.9 679.82,317.42 676.37,320.49 675.45,315.97" fill="#111"/>
<line x1="709.6" y1="323.4" x2="702.94" y2="318.39" stroke="#2e2e2e" stroke-width="1.35" stroke-linecap="round"/>
<polygon points="699.1,315.5 703.68,316.07 705.49,320.31 700.91,319.74" fill="#111"/>
<line x1="757.1" y1="323.4" x2="745.59" y2="317.65" stroke="#2e2e2e" stroke-width="1.35" stroke-linecap="round"/>
<polygon points="741.3,315.5 745.91,315.23 748.46,319.08 743.85,319.35" fill="#111"/>
<line x1="861.8" y1="321" x2="889.49" y2="315.44" stroke="#2e2e2e" stroke-width="1.35" stroke-linecap="round"/>
<polygon points="894.2,314.5 890.73,317.54 886.36,316.07 889.83,313.03" fill="#111"/>
<line x1="952.7" y1="319.1" x2="974.84" y2="316.38" stroke="#2e2e2e" stroke-width="1.35" stroke-linecap="round"/>
<polygon points="979.6,315.8 975.91,318.57 971.66,316.77 975.35,314" fill="#111"/>
<text transform="translate(955.69 115.5) scale(0.7010 1)" font-size="47.38" font-weight="bold" fill="#000" stroke="#000" stroke-width="1.57" stroke-linejoin="round">(</text>
<text transform="translate(971.63 115.35) scale(0.9142 1)" font-size="47.17" font-weight="bold" fill="#000" stroke="#000" stroke-width="1.2" stroke-linejoin="round">h</text>
<text transform="translate(1002.79 115.5) scale(0.6935 1)" font-size="47.38" font-weight="bold" fill="#000" stroke="#000" stroke-width="1.59" stroke-linejoin="round">)</text>
<text transform="translate(558.8 291.71) rotate(-90) scale(1.0658 1)" font-size="29.52" font-weight="bold" fill="#000">Voltage</text>
<text transform="translate(558.79 170.42) rotate(-90) scale(0.8104 1)" font-size="30.27" font-weight="normal" fill="#000" stroke="#000" stroke-width="0.5" stroke-linejoin="round">(</text>
<text transform="translate(558.5 160.29) rotate(-90) scale(0.9600 1)" font-size="30.29" font-weight="bold" fill="#000">V</text>
<text transform="translate(558.79 138.38) rotate(-90) scale(0.7751 1)" font-size="30.27" font-weight="normal" fill="#000" stroke="#000" stroke-width="0.5" stroke-linejoin="round">)</text>
<text transform="translate(620.58 400.02) scale(1.0993 1)" font-size="28.02" font-weight="bold" fill="#000">Specific capacity</text>
<text transform="translate(881.72 400.16) scale(0.9236 1)" font-size="20.43" font-weight="normal" fill="#000" stroke="#000" stroke-width="0.54" stroke-linejoin="round">(</text>
<text transform="translate(888.69 400.8) scale(1.0678 1)" font-size="28.97" font-weight="bold" fill="#000">mAh</text>
<text transform="translate(967.42 400.48) scale(1.0292 1)" font-size="28.67" font-weight="bold" fill="#000">g</text>
<g transform="translate(987.96 383.1) scale(1.0324 1)" fill="#000" stroke="#000" stroke-width="0.4" stroke-linejoin="round"><text x="0" y="0" font-size="13.77" font-weight="normal">-</text><path transform="translate(4.58 0) scale(0.00672 -0.00672)" d="M515,0 L515,1237 L197,1010 L197,1180 L530,1409 L696,1409 L696,0 Z"/></g>
<text transform="translate(1004.08 400.12) scale(0.8599 1)" font-size="19.68" font-weight="normal" fill="#000" stroke="#000" stroke-width="0.58" stroke-linejoin="round">)</text>
<rect x="609.2" y="454.1" width="403.8" height="299.3" fill="none" stroke="#2c2c2c" stroke-width="2.3"/>
<line x1="602.7" y1="728.9" x2="609.2" y2="728.9" stroke="#2c2c2c" stroke-width="2" />
<line x1="602.7" y1="688.5" x2="609.2" y2="688.5" stroke="#2c2c2c" stroke-width="2" />
<line x1="602.7" y1="648.1" x2="609.2" y2="648.1" stroke="#2c2c2c" stroke-width="2" />
<line x1="602.7" y1="607.7" x2="609.2" y2="607.7" stroke="#2c2c2c" stroke-width="2" />
<line x1="602.7" y1="567.3" x2="609.2" y2="567.3" stroke="#2c2c2c" stroke-width="2" />
<line x1="602.7" y1="526.9" x2="609.2" y2="526.9" stroke="#2c2c2c" stroke-width="2" />
<line x1="602.7" y1="486.5" x2="609.2" y2="486.5" stroke="#2c2c2c" stroke-width="2" />
<line x1="605.7" y1="749.1" x2="609.2" y2="749.1" stroke="#2c2c2c" stroke-width="2" />
<line x1="605.7" y1="708.7" x2="609.2" y2="708.7" stroke="#2c2c2c" stroke-width="2" />
<line x1="605.7" y1="668.3" x2="609.2" y2="668.3" stroke="#2c2c2c" stroke-width="2" />
<line x1="605.7" y1="627.9" x2="609.2" y2="627.9" stroke="#2c2c2c" stroke-width="2" />
<line x1="605.7" y1="587.5" x2="609.2" y2="587.5" stroke="#2c2c2c" stroke-width="2" />
<line x1="605.7" y1="547.1" x2="609.2" y2="547.1" stroke="#2c2c2c" stroke-width="2" />
<line x1="605.7" y1="506.7" x2="609.2" y2="506.7" stroke="#2c2c2c" stroke-width="2" />
<line x1="605.7" y1="466.3" x2="609.2" y2="466.3" stroke="#2c2c2c" stroke-width="2" />
<line x1="620.2" y1="753.4" x2="620.2" y2="759.9" stroke="#2c2c2c" stroke-width="2" />
<line x1="732.4" y1="753.4" x2="732.4" y2="759.9" stroke="#2c2c2c" stroke-width="2" />
<line x1="844.6" y1="753.4" x2="844.6" y2="759.9" stroke="#2c2c2c" stroke-width="2" />
<line x1="956.8" y1="753.4" x2="956.8" y2="759.9" stroke="#2c2c2c" stroke-width="2" />
<line x1="676.3" y1="753.4" x2="676.3" y2="756.9" stroke="#2c2c2c" stroke-width="2" />
<line x1="788.5" y1="753.4" x2="788.5" y2="756.9" stroke="#2c2c2c" stroke-width="2" />
<line x1="900.7" y1="753.4" x2="900.7" y2="756.9" stroke="#2c2c2c" stroke-width="2" />
<text transform="translate(568.26 735.05) scale(1.0200 1)" font-size="21.6" font-weight="bold" fill="#000">0.0</text>
<text transform="translate(567.93 694.65) scale(1.0200 1)" font-size="21.6" font-weight="bold" fill="#000">0.5</text>
<g transform="translate(568.26 654.25) scale(1.0200 1)" fill="#000"><path transform="translate(0 0) scale(0.01055 -0.01055)" d="M478,0 L478,1170 L140,959 L140,1180 L493,1409 L759,1409 L759,0 Z"/><text x="12.01" y="0" font-size="21.6" font-weight="bold">.0</text></g>
<g transform="translate(567.93 613.74) scale(1.0200 1)" fill="#000"><path transform="translate(0 0) scale(0.01055 -0.01055)" d="M478,0 L478,1170 L140,959 L140,1180 L493,1409 L759,1409 L759,0 Z"/><text x="12.01" y="0" font-size="21.6" font-weight="bold">.5</text></g>
<text transform="translate(568.26 573.45) scale(1.0200 1)" font-size="21.6" font-weight="bold" fill="#000">2.0</text>
<text transform="translate(567.93 533.05) scale(1.0200 1)" font-size="21.6" font-weight="bold" fill="#000">2.5</text>
<text transform="translate(568.26 492.65) scale(1.0200 1)" font-size="21.6" font-weight="bold" fill="#000">3.0</text>
<text transform="translate(614.09 781.12) scale(1.0200 1)" font-size="21.6" font-weight="bold" fill="#000">0</text>
<g transform="translate(713.78 781.12) scale(1.0200 1)" fill="#000"><path transform="translate(0 0) scale(0.01055 -0.01055)" d="M478,0 L478,1170 L140,959 L140,1180 L493,1409 L759,1409 L759,0 Z"/><text x="12.01" y="0" font-size="21.6" font-weight="bold">00</text></g>
<text transform="translate(826.31 781.12) scale(1.0200 1)" font-size="21.6" font-weight="bold" fill="#000">200</text>
<text transform="translate(938.62 781.12) scale(1.0200 1)" font-size="21.6" font-weight="bold" fill="#000">300</text>
<path d="M620.1,699.5 C621.7,697.39 625.35,692.51 628.8,688 C632.25,683.49 635.2,680.22 638.9,674.9 C642.6,669.58 645.55,664.83 649,659 C652.45,653.17 654.79,648.65 657.7,643.1 C660.62,637.55 662.15,633.98 664.9,628.7 C667.65,623.42 669.51,618.92 672.7,614.3 C675.89,609.68 678.34,607.46 682.3,603.5 C686.26,599.54 689.88,595.8 694.3,592.7 C698.72,589.6 701.98,588.63 706.4,586.6 C710.82,584.57 711.4,584.7 718.4,581.6 C725.4,578.5 736.88,573.48 744.6,569.7 C752.32,565.92 754.39,565.25 760.5,561 C766.61,556.75 771.54,552.61 777.9,546.5 C784.26,540.39 789.37,535.12 795.2,527.7 C801.03,520.28 805.98,513.15 809.7,506 C813.42,498.85 814.44,491.87 815.5,488.7" fill="none" stroke="#1a1a1a" stroke-width="2.3" stroke-linecap="round" stroke-linejoin="round"/>
<path d="M620.4,599.1 C620.56,600.73 620.71,604.85 621.3,608 C621.89,611.15 622.1,613.86 623.6,616.3 C625.1,618.74 626.22,619.47 629.5,621.3 C632.78,623.13 636.79,624.48 641.5,626.3 C646.21,628.12 650.34,629.28 655.2,631.2 C660.06,633.12 662.85,634.54 668,636.8 C673.15,639.05 677.98,640.99 683.3,643.5 C688.62,646.01 691.85,647.79 697,650.5 C702.15,653.21 703.61,654.89 711.4,658.3 C719.19,661.71 729.18,665.18 739.5,669.1 C749.82,673.02 757.38,675.87 767.7,679.7 C778.02,683.53 785.5,686.46 795.8,690 C806.1,693.54 813.58,695.77 823.9,699 C834.22,702.23 841.78,704.7 852.1,707.6 C862.42,710.5 869.9,712.25 880.2,714.8 C890.5,717.35 897.98,719.45 908.3,721.5 C918.62,723.55 926.82,724.88 936.5,726 C946.18,727.12 956.59,727.31 961.1,727.6" fill="none" stroke="#1a1a1a" stroke-width="2.3" stroke-linecap="round" stroke-linejoin="round"/>
<path d="M620.1,706.7 C622.23,704.06 627.45,697.32 631.7,692.3 C635.95,687.28 639.6,684.6 643.3,679.3 C647,674 649.26,669.23 651.9,663.4 C654.54,657.57 655.57,653.33 657.7,647.5 C659.83,641.67 661.65,637.25 663.5,631.6 C665.35,625.95 665.89,621.63 667.8,616.7 C669.71,611.77 671.24,608.66 673.9,604.7 C676.56,600.74 678.56,598.2 682.3,595.1 C686.04,592 689.88,589.69 694.3,587.8 C698.72,585.91 701.98,586.01 706.4,584.8 C710.82,583.59 714.31,582.65 718.4,581.2 C722.49,579.75 723.64,579.54 728.7,576.9 C733.76,574.26 740.17,571.84 746,566.8 C751.83,561.76 755.18,556.04 760.5,549.4 C765.82,542.76 769.7,538.02 775,530.6 C780.3,523.18 784.38,517.11 789.4,508.9 C794.42,500.69 800.02,490.04 802.4,485.8" fill="none" stroke="#1f1fd6" stroke-width="2.3" stroke-linecap="round" stroke-linejoin="round"/>
<path d="M620.1,711.1 C622.23,708.19 627.19,700.77 631.7,695.2 C636.21,689.63 640.72,686 644.7,680.7 C648.68,675.4 650.49,672.13 653.4,666.3 C656.31,660.47 657.96,655.08 660.6,648.9 C663.24,642.72 665.36,638.26 667.8,632.6 C670.24,626.94 671.68,622.89 673.9,618 C676.12,613.11 677.26,610.1 679.9,605.9 C682.54,601.7 685.22,598.42 688.3,595.1 C691.38,591.78 693.38,590.02 696.7,587.8 C700.02,585.58 702.42,584.76 706.4,583 C710.38,581.24 711.93,580.91 718.4,578.2 C724.87,575.49 734.77,572.14 741.7,568.2 C748.63,564.26 750.63,561.21 756.2,556.7 C761.77,552.19 766.01,549.71 772.1,543.6 C778.19,537.5 783.31,531.08 789.4,523.4 C795.49,515.72 800.66,508.59 805.3,501.7 C809.94,494.81 812.98,488.72 814.7,485.8" fill="none" stroke="#f08c2c" stroke-width="2.3" stroke-linecap="round" stroke-linejoin="round"/>
<path d="M620.4,574 C620.69,576.31 620.59,581.06 622,586.6 C623.41,592.14 625.44,598.99 628.1,604.2 C630.76,609.41 633.2,611.46 636.5,615 C639.8,618.54 643,620.64 646.1,623.5 C649.2,626.36 649.42,626.81 653.4,630.6 C657.38,634.39 662.5,638.9 667.8,644.2 C673.1,649.5 675.66,653.78 682.3,659.5 C688.94,665.22 697.09,670.8 704,675.4 C710.91,680 714.21,681.45 720,684.6 C725.79,687.75 729.86,689.43 735.6,692.6 C741.34,695.77 745.56,698.76 751.3,701.9 C757.04,705.03 761.18,706.93 766.9,709.7 C772.62,712.47 775.62,713.87 782.5,717 C789.38,720.13 800.38,725 804.4,726.8" fill="none" stroke="#1f1fd6" stroke-width="2.3" stroke-linecap="round" stroke-linejoin="round"/>
<path d="M620.4,573.4 C620.88,576.64 621.44,585.23 623,591.1 C624.56,596.97 626.59,601.07 628.9,605.4 C631.21,609.73 632.81,611.6 635.6,614.7 C638.39,617.8 641,619.66 644.1,622.3 C647.2,624.94 649.48,625.82 652.5,629.1 C655.52,632.38 655.14,634.19 660.6,640.2 C666.06,646.21 674.34,655.01 682.3,661.9 C690.26,668.79 697.09,673.29 704,677.8 C710.91,682.31 714.21,683.44 720,686.5 C725.79,689.56 729.86,691.37 735.6,694.5 C741.34,697.63 745.56,700.54 751.3,703.6 C757.04,706.66 761.18,708.6 766.9,711.2 C772.62,713.8 777.22,715.91 782.5,717.8 C787.78,719.69 789.47,719.7 795.7,721.5 C801.93,723.3 812.69,726.48 816.5,727.6" fill="none" stroke="#f08c2c" stroke-width="2.3" stroke-linecap="round" stroke-linejoin="round"/>
<path d="M620.1,689.4 C621.16,686.74 623.52,681 625.9,674.9 C628.28,668.79 630.79,662.59 633.1,656.1 C635.41,649.61 636.96,645.29 638.5,639.5 C640.04,633.71 640.16,630.27 641.5,624.5 C642.84,618.73 644.02,613.39 645.8,608 C647.58,602.61 649.15,599.46 651.2,595.1 C653.25,590.74 654.18,587.74 657,584.2 C659.82,580.66 662.4,578.66 666.6,575.8 C670.8,572.94 674.82,571.04 679.9,568.6 C684.98,566.16 689.44,565.16 694.3,562.5 C699.16,559.84 702.84,557.31 706.4,554.1 C709.96,550.89 710.75,549 713.7,545 C716.65,541 718.96,537.52 722.5,532.3 C726.04,527.07 729.13,522.62 733,516.5 C736.87,510.38 740.54,504.45 743.6,498.9 C746.66,493.34 748.58,488.53 749.7,486.2" fill="none" stroke="#e3262a" stroke-width="2.3" stroke-linecap="round" stroke-linejoin="round"/>
<path d="M620.2,601.1 C620.71,603.59 621.4,610.81 623,614.7 C624.6,618.59 626.9,619.35 628.9,622.3 C630.9,625.25 632.14,628.1 633.9,630.8 C635.66,633.5 634.92,632.36 638.5,637 C642.08,641.64 648.03,649.15 653.4,656.1 C658.77,663.05 662.5,669.05 667.8,674.9 C673.1,680.75 675.66,683.22 682.3,688 C688.94,692.78 697.09,696.8 704,701 C710.91,705.2 714.21,707.64 720,710.9 C725.79,714.16 729.97,715.68 735.6,718.8 C741.23,721.92 747.93,726.23 750.7,727.9" fill="none" stroke="#e3262a" stroke-width="2.3" stroke-linecap="round" stroke-linejoin="round"/>
<path d="M620.4,622.3 C620.69,620.83 621.25,617.97 622,614.3 C622.75,610.63 623.6,607.16 624.5,602.3 C625.4,597.44 626.02,592.66 626.9,587.8 C627.78,582.94 627.98,580.22 629.3,575.8 C630.62,571.38 631.68,568.12 634.1,563.7 C636.52,559.28 639.66,555.13 642.5,551.7 C645.34,548.27 646.85,547.99 649.6,545 C652.35,542.01 654.46,539.01 657.5,535.4 C660.54,531.79 662.66,529.74 666.2,525.3 C669.74,520.86 673.57,516.35 676.8,511.2 C680.03,506.05 681.71,501.71 683.8,497.2 C685.89,492.69 687.39,488.54 688.2,486.6" fill="none" stroke="#2be02b" stroke-width="2.3" stroke-linecap="round" stroke-linejoin="round"/>
<path d="M620.4,631.6 C621.41,634.77 623.57,642.54 625.9,648.9 C628.23,655.26 630.19,659.94 633.1,666.3 C636.01,672.66 638.61,677.77 641.8,683.6 C644.99,689.43 647.05,693.06 650.5,698.1 C653.95,703.14 656.09,706.87 660.6,711.1 C665.11,715.34 669.93,718.16 675.1,721.2 C680.27,724.24 686.29,726.51 688.8,727.7" fill="none" stroke="#2be02b" stroke-width="2.3" stroke-linecap="round" stroke-linejoin="round"/>
<path d="M620.2,543.9 C621.87,540.82 626.33,533.1 629.3,527.1 C632.27,521.11 634.07,516.83 636.4,511.2 C638.73,505.57 640.72,501.22 642,496.4 C643.28,491.58 643.14,487.01 643.4,484.9" fill="none" stroke="#8a2be2" stroke-width="2.3" stroke-linecap="round" stroke-linejoin="round"/>
<path d="M620.1,659 C620.91,661.66 622.9,668.72 624.5,673.5 C626.1,678.28 627.22,680.06 628.8,685.1 C630.38,690.14 631.25,694.91 633.1,701 C634.95,707.09 637.03,713.4 638.9,718.3 C640.77,723.19 642.49,725.98 643.3,727.7" fill="none" stroke="#8a2be2" stroke-width="2.3" stroke-linecap="round" stroke-linejoin="round"/>
<g transform="translate(614.96 473.14) scale(1.0000 1)" fill="#8a2be2" stroke="#8a2be2" stroke-width="0.5" stroke-linejoin="round"><path transform="translate(0 0) scale(0.00819 -0.00819)" d="M478,0 L478,1170 L140,959 L140,1180 L493,1409 L759,1409 L759,0 Z"/><text x="9.33" y="0" font-size="16.78" font-weight="bold">0C</text></g>
<text transform="translate(659.18 473.97) scale(1.0000 1)" font-size="15.57" font-weight="bold" fill="#2be02b" stroke="#2be02b" stroke-width="0.5" stroke-linejoin="round">5C</text>
<text transform="translate(699.79 473.32) scale(1.0000 1)" font-size="16.13" font-weight="bold" fill="#e3262a" stroke="#e3262a" stroke-width="0.5" stroke-linejoin="round">2C</text>
<g transform="translate(735.89 471.59) scale(1.0000 1)" fill="#1f1fd6" stroke="#1f1fd6" stroke-width="0.5" stroke-linejoin="round"><path transform="translate(0 0) scale(0.00872 -0.00872)" d="M478,0 L478,1170 L140,959 L140,1180 L493,1409 L759,1409 L759,0 Z"/><text x="9.93" y="0" font-size="17.85" font-weight="bold">C@20th</text></g>
<g transform="translate(823 470.46) scale(1.0000 1)" fill="#f08c2c" stroke="#f08c2c" stroke-width="0.5" stroke-linejoin="round"><path transform="translate(0 0) scale(0.00866 -0.00866)" d="M478,0 L478,1170 L140,959 L140,1180 L493,1409 L759,1409 L759,0 Z"/><text x="9.87" y="0" font-size="17.74" font-weight="bold">C@</text><path transform="translate(39.98 0) scale(0.00866 -0.00866)" d="M478,0 L478,1170 L140,959 L140,1180 L493,1409 L759,1409 L759,0 Z"/><text x="49.85" y="0" font-size="17.74" font-weight="bold">40th</text></g>
<g transform="translate(918.55 472.85) scale(1.0000 1)" fill="#1a1a1a"><path transform="translate(0 0) scale(0.00861 -0.00861)" d="M478,0 L478,1170 L140,959 L140,1180 L493,1409 L759,1409 L759,0 Z"/><text x="9.8" y="0" font-size="17.62" font-weight="bold">C@</text><path transform="translate(39.71 0) scale(0.00861 -0.00861)" d="M478,0 L478,1170 L140,959 L140,1180 L493,1409 L759,1409 L759,0 Z"/><text x="49.52" y="0" font-size="17.62" font-weight="bold">st</text></g>
<line x1="627.6" y1="475.2" x2="638.02" y2="484.5" stroke="#2e2e2e" stroke-width="1.35" stroke-linecap="round"/>
<polygon points="641.6,487.7 637.08,486.75 635.63,482.37 640.15,483.32" fill="#111"/>
<line x1="671.5" y1="476.1" x2="683.03" y2="487.09" stroke="#2e2e2e" stroke-width="1.35" stroke-linecap="round"/>
<polygon points="686.5,490.4 682.02,489.3 680.71,484.88 685.19,485.98" fill="#111"/>
<line x1="723.4" y1="470" x2="742.41" y2="484.76" stroke="#2e2e2e" stroke-width="1.35" stroke-linecap="round"/>
<polygon points="746.2,487.7 741.63,487.06 739.88,482.79 744.45,483.43" fill="#111"/>
<line x1="779.5" y1="471.8" x2="793.85" y2="485.66" stroke="#2e2e2e" stroke-width="1.35" stroke-linecap="round"/>
<polygon points="797.3,489 792.83,487.87 791.55,483.44 796.02,484.57" fill="#111"/>
<line x1="839.2" y1="471" x2="818.08" y2="481.73" stroke="#2e2e2e" stroke-width="1.35" stroke-linecap="round"/>
<polygon points="813.8,483.9 816.32,480.04 820.93,480.28 818.41,484.14" fill="#111"/>
<line x1="940.8" y1="476.1" x2="822.36" y2="491.96" stroke="#2e2e2e" stroke-width="1.35" stroke-linecap="round"/>
<polygon points="817.6,492.6 821.26,489.79 825.53,491.54 821.87,494.35" fill="#111"/>
<g transform="translate(613.98 749.17) scale(1.0000 1)" fill="#8a2be2" stroke="#8a2be2" stroke-width="0.5" stroke-linejoin="round"><path transform="translate(0 0) scale(0.00803 -0.00803)" d="M478,0 L478,1170 L140,959 L140,1180 L493,1409 L759,1409 L759,0 Z"/><text x="9.14" y="0" font-size="16.44" font-weight="bold">0C</text></g>
<text transform="translate(657.59 747.74) scale(1.0000 1)" font-size="15.49" font-weight="bold" fill="#2be02b" stroke="#2be02b" stroke-width="0.5" stroke-linejoin="round">5C</text>
<text transform="translate(700.39 749.07) scale(1.0000 1)" font-size="16.13" font-weight="bold" fill="#e3262a" stroke="#e3262a" stroke-width="0.5" stroke-linejoin="round">2C</text>
<g transform="translate(738.12 745.98) scale(1.0000 1)" fill="#1f1fd6" stroke="#1f1fd6" stroke-width="0.5" stroke-linejoin="round"><path transform="translate(0 0) scale(0.00852 -0.00852)" d="M478,0 L478,1170 L140,959 L140,1180 L493,1409 L759,1409 L759,0 Z"/><text x="9.7" y="0" font-size="17.44" font-weight="bold">C@20th</text></g>
<g transform="translate(837.19 746.68) scale(1.0000 1)" fill="#f08c2c" stroke="#f08c2c" stroke-width="0.5" stroke-linejoin="round"><path transform="translate(0 0) scale(0.00869 -0.00869)" d="M478,0 L478,1170 L140,959 L140,1180 L493,1409 L759,1409 L759,0 Z"/><text x="9.9" y="0" font-size="17.81" font-weight="bold">C@</text><path transform="translate(40.12 0) scale(0.00869 -0.00869)" d="M478,0 L478,1170 L140,959 L140,1180 L493,1409 L759,1409 L759,0 Z"/><text x="50.03" y="0" font-size="17.81" font-weight="bold">40th</text></g>
<g transform="translate(930.34 747.21) scale(1.0000 1)" fill="#1a1a1a"><path transform="translate(0 0) scale(0.00871 -0.00871)" d="M478,0 L478,1170 L140,959 L140,1180 L493,1409 L759,1409 L759,0 Z"/><text x="9.92" y="0" font-size="17.85" font-weight="bold">C@</text><path transform="translate(40.21 0) scale(0.00871 -0.00871)" d="M478,0 L478,1170 L140,959 L140,1180 L493,1409 L759,1409 L759,0 Z"/><text x="50.14" y="0" font-size="17.85" font-weight="bold">st</text></g>
<line x1="630.4" y1="741.9" x2="637.85" y2="727.84" stroke="#2e2e2e" stroke-width="1.35" stroke-linecap="round"/>
<polygon points="640.1,723.6 640.26,728.21 636.35,730.67 636.19,726.06" fill="#111"/>
<line x1="666.9" y1="736.5" x2="672.13" y2="726.73" stroke="#2e2e2e" stroke-width="1.35" stroke-linecap="round"/>
<polygon points="674.4,722.5 674.54,727.11 670.62,729.55 670.48,724.94" fill="#111"/>
<line x1="709.9" y1="735.4" x2="734.25" y2="729.1" stroke="#2e2e2e" stroke-width="1.35" stroke-linecap="round"/>
<polygon points="738.9,727.9 735.6,731.13 731.15,729.9 734.45,726.67" fill="#111"/>
<line x1="770" y1="734.3" x2="796.5" y2="728.86" stroke="#2e2e2e" stroke-width="1.35" stroke-linecap="round"/>
<polygon points="801.2,727.9 797.74,730.96 793.36,729.51 796.82,726.45" fill="#111"/>
<line x1="853.7" y1="734.5" x2="823" y2="727.99" stroke="#2e2e2e" stroke-width="1.35" stroke-linecap="round"/>
<polygon points="818.3,727 822.69,725.58 826.13,728.66 821.74,730.08" fill="#111"/>
<line x1="963.3" y1="738" x2="945.1" y2="730.03" stroke="#2e2e2e" stroke-width="1.35" stroke-linecap="round"/>
<polygon points="940.7,728.1 945.29,727.6 948.03,731.31 943.44,731.81" fill="#111"/>
<text transform="translate(966.27 513.56) scale(0.7054 1)" font-size="47.59" font-weight="bold" fill="#000" stroke="#000" stroke-width="1.56" stroke-linejoin="round">(</text>
<text transform="translate(983.71 512.62) scale(0.9795 1)" font-size="44.92" font-weight="bold" fill="#000" stroke="#000" stroke-width="1.12" stroke-linejoin="round">j</text>
<text transform="translate(999.88 513.56) scale(0.7129 1)" font-size="47.59" font-weight="bold" fill="#000" stroke="#000" stroke-width="1.54" stroke-linejoin="round">)</text>
<text transform="translate(554.8 704.71) rotate(-90) scale(1.0658 1)" font-size="29.52" font-weight="bold" fill="#000">Voltage</text>
<text transform="translate(554.79 583.42) rotate(-90) scale(0.8104 1)" font-size="30.27" font-weight="normal" fill="#000" stroke="#000" stroke-width="0.5" stroke-linejoin="round">(</text>
<text transform="translate(554.5 573.29) rotate(-90) scale(0.9600 1)" font-size="30.29" font-weight="bold" fill="#000">V</text>
<text transform="translate(554.79 551.38) rotate(-90) scale(0.7751 1)" font-size="30.27" font-weight="normal" fill="#000" stroke="#000" stroke-width="0.5" stroke-linejoin="round">)</text>
<text transform="translate(616.58 812.71) scale(1.1146 1)" font-size="27.59" font-weight="bold" fill="#000">Specific capacity</text>
<text transform="translate(877.69 813.38) scale(0.8333 1)" font-size="21.28" font-weight="normal" fill="#000" stroke="#000" stroke-width="0.6" stroke-linejoin="round">(</text>
<text transform="translate(884.2 813.4) scale(1.0800 1)" font-size="28.55" font-weight="bold" fill="#000">mAh</text>
<text transform="translate(961.66 812.75) scale(1.1156 1)" font-size="27.87" font-weight="bold" fill="#000">g</text>
<g transform="translate(983.05 795.7) scale(0.9506 1)" fill="#000" stroke="#000" stroke-width="0.42" stroke-linejoin="round"><text x="0" y="0" font-size="15.22" font-weight="normal">-</text><path transform="translate(5.07 0) scale(0.00743 -0.00743)" d="M515,0 L515,1237 L197,1010 L197,1180 L530,1409 L696,1409 L696,0 Z"/></g>
<text transform="translate(998.96 813.58) scale(0.8855 1)" font-size="21.28" font-weight="normal" fill="#000" stroke="#000" stroke-width="0.56" stroke-linejoin="round">)</text>
</svg></body></html>
